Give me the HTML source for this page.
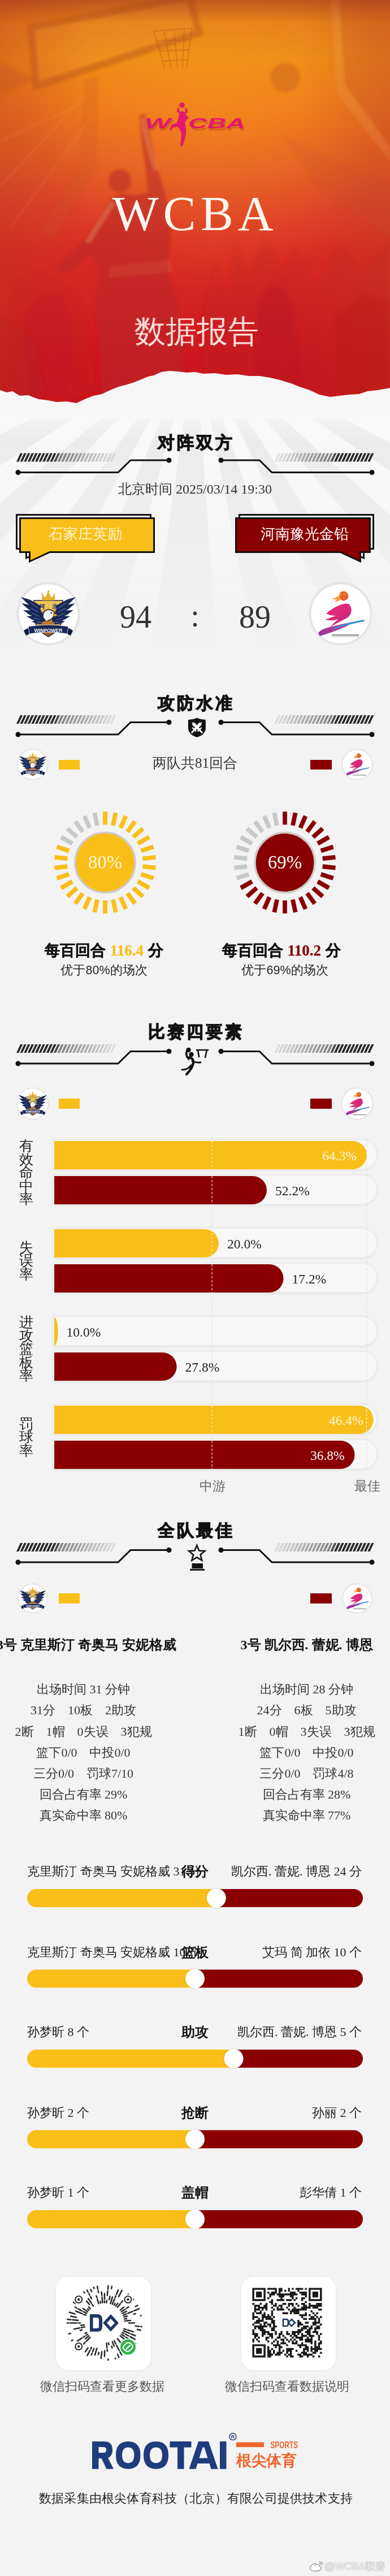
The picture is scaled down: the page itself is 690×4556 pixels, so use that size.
<!DOCTYPE html>
<html><head><meta charset="utf-8">
<style>
*{margin:0;padding:0;box-sizing:border-box}
html,body{width:690px;height:4556px;overflow:hidden;background:#f0f0f0}
body{font-family:"Liberation Sans",sans-serif;color:#222;position:relative}
.a{position:absolute}
.sf{font-family:"Liberation Serif",sans-serif}
.t{position:absolute;white-space:nowrap;line-height:1}
</style></head><body>
<div class="a" style="left:0;top:0;width:690px;height:4556px;background:#f3f3f3"></div>
<svg class="a" style="left:0;top:650px" width="690" height="500" viewBox="0 650 690 500">
<defs>
 <linearGradient id="bgfade" gradientUnits="userSpaceOnUse" x1="0" y1="650" x2="0" y2="1150">
  <stop offset="0" stop-color="#fff" stop-opacity="1"/>
  <stop offset="0.45" stop-color="#fff" stop-opacity="0.6"/>
  <stop offset="1" stop-color="#fff" stop-opacity="0"/>
 </linearGradient>
 <mask id="bgm"><rect x="0" y="650" width="690" height="500" fill="url(#bgfade)"/></mask>
</defs>
<g mask="url(#bgm)">
<rect x="0" y="650" width="690" height="500" fill="#e9e9e9"/>
<path d="M345.0 600.0 L-1054.8 624.4 L-1033.7 843.1 Z M345.0 600.0 L-986.5 1032.6 L-913.3 1213.7 Z M345.0 600.0 L-829.1 1362.5 L-727.5 1499.9 Z M345.0 600.0 L-627.5 1607.1 L-477.9 1732.6 Z M345.0 600.0 L-333.7 1824.5 L-202.0 1888.7 Z M345.0 600.0 L-17.3 1952.3 L150.2 1986.4 Z M345.0 600.0 L442.7 1996.6 L612.1 1974.3 Z M345.0 600.0 L800.8 1923.7 L958.7 1858.3 Z M345.0 600.0 L1107.5 1774.1 L1263.5 1656.6 Z M345.0 600.0 L1385.4 1536.8 L1505.7 1382.9 Z M345.0 600.0 L1581.1 1257.3 L1668.7 1055.8 Z M345.0 600.0 L1714.4 891.1 L1744.1 648.9 Z" fill="#f9f9f9"/>
</g>
<linearGradient id="paperfade" gradientUnits="userSpaceOnUse" x1="0" y1="650" x2="0" y2="780"><stop offset="0" stop-color="#f8f8f8" stop-opacity="1"/><stop offset="0.55" stop-color="#f8f8f8" stop-opacity="0.9"/><stop offset="1" stop-color="#f8f8f8" stop-opacity="0"/></linearGradient>
<rect x="0" y="650" width="690" height="130" fill="url(#paperfade)"/>
</svg>
<svg width="0" height="0" style="position:absolute">
<defs>
 <linearGradient id="shg" x1="0" y1="0" x2="0" y2="1">
  <stop offset="0" stop-color="#f3c64a"/><stop offset="0.6" stop-color="#d9992a"/><stop offset="1" stop-color="#8a5a1a"/>
 </linearGradient>
 <linearGradient id="swg" x1="0" y1="0" x2="1" y2="1">
  <stop offset="0" stop-color="#e8307a"/><stop offset="0.6" stop-color="#d8267a"/><stop offset="1" stop-color="#9a3aa0"/>
 </linearGradient>
 <linearGradient id="sw2" x1="0" y1="1" x2="1" y2="0">
  <stop offset="0" stop-color="#8a3aa8"/><stop offset="1" stop-color="#e0307a"/>
 </linearGradient>
 <linearGradient id="ballg" x1="0" y1="0" x2="1" y2="1">
  <stop offset="0" stop-color="#f8a030"/><stop offset="1" stop-color="#e84a28"/>
 </linearGradient>
 <symbol id="logoL" viewBox="0 0 113 113">
  <circle cx="56.5" cy="56.5" r="54" fill="#fff" stroke="#e4e4e4" stroke-width="4"/>
  <path d="M31 33 L82 33 L82 58 Q82 84 56.5 97 Q31 84 31 58 Z" fill="url(#shg)" stroke="#1d2b5c" stroke-width="1.5"/>
  <path d="M36 36 L55 36 L55 49 L36 49 Z M58 36 L77 36 L77 49 L58 49 Z" fill="#ecc860"/>
  <text x="45.5" y="47" text-anchor="middle" font-size="10" font-weight="bold" fill="#1d2b5c">河</text>
  <text x="67.5" y="47" text-anchor="middle" font-size="10" font-weight="bold" fill="#1d2b5c">北</text>
  <path d="M44.3 43.1 L23.7 31.5 L8.0 27.0 L19.5 38.5 L39.7 50.9 Z M44.0 50.0 L24.0 40.8 L9.0 38.0 L20.4 48.0 L40.0 58.0 Z M44.5 56.8 L25.8 50.6 L12.0 50.0 L23.0 58.2 L41.5 65.2 Z M45.9 63.1 L29.6 59.9 L18.0 61.0 L28.0 66.9 L44.1 70.9 Z M47.3 68.5 L35.3 67.7 L27.0 70.0 L34.7 73.9 L46.7 75.5 Z M73.3 50.9 L93.5 38.5 L105.0 27.0 L89.3 31.5 L68.7 43.1 Z M73.0 58.0 L92.6 48.0 L104.0 38.0 L89.0 40.8 L69.0 50.0 Z M71.5 65.2 L90.0 58.2 L101.0 50.0 L87.2 50.6 L68.5 56.8 Z M68.9 70.9 L85.0 66.9 L95.0 61.0 L83.4 59.9 L67.1 63.1 Z M66.3 75.5 L78.3 73.9 L86.0 70.0 L77.7 67.7 L65.7 68.5 Z" fill="#1b2857"/>
  <path d="M34 44 L50 58 L50 76 L40 74 Z M79 44 L63 58 L63 76 L73 74 Z" fill="#1b2857"/>
  <path d="M39.0 47.0 L25.0 37.0 M39.0 54.0 L25.5 46.0 M40.0 61.0 L27.5 55.5 M42.0 67.0 L31.5 64.0 M44.0 72.0 L37.0 71.0 M74.0 47.0 L88.0 37.0 M74.0 54.0 L87.5 46.0 M73.0 61.0 L85.5 55.5 M71.0 67.0 L81.5 64.0 M69.0 72.0 L76.0 71.0" stroke="#4f6cb4" stroke-width="1.3" fill="none"/>
  <path d="M45 33 L45.5 22 L51 28 L56.5 17 L62 28 L67.5 22 L68 33 Z" fill="#e4ae2c"/>
  <circle cx="56.5" cy="17" r="1.8" fill="#e4ae2c"/><circle cx="45.5" cy="22" r="1.5" fill="#e4ae2c"/><circle cx="67.5" cy="22" r="1.5" fill="#e4ae2c"/>
  <path d="M47 63 Q46 51 56 49 Q65 49 69 56 L73 59 L66 61 Q62 68 52 70 Z" fill="#f0f0f0" stroke="#222" stroke-width="1.6"/>
  <path d="M66 55 L74 59 L66 62 Z" fill="#e8b02a" stroke="#222" stroke-width="0.8"/>
  <circle cx="62" cy="55" r="1.3" fill="#222"/>
  <path d="M44 72 Q56 66 68 72 L66 80 Q56 76 46 80 Z" fill="#b87430"/>
  <path d="M13 86 L24 80 L26 91 L17 95 Z M100 86 L89 80 L87 91 L96 95 Z" fill="#0f1a3c"/>
  <path d="M21 79 Q56.5 73 92 79 L90 92 Q56.5 86 23 92 Z" fill="#1b2857" stroke="#fff" stroke-width="0.8"/>
  <text x="56.5" y="88.5" text-anchor="middle" font-family="Liberation Sans" font-size="9" font-weight="bold" fill="#fff" textLength="50" lengthAdjust="spacingAndGlyphs">WINPOWER</text>
 </symbol>
 <symbol id="logoR" viewBox="0 0 113 113">
  <circle cx="56.5" cy="56.5" r="54" fill="#fff" stroke="#e4e4e4" stroke-width="4"/>
  <circle cx="62" cy="25" r="8.5" fill="url(#ballg)"/>
  <path d="M55 20 Q60 17 67 20 M54.5 28 Q61 24 69.5 27 M61 16.8 Q57 25 62 33.3" stroke="#a8381a" stroke-width="0.8" fill="none"/>
  <path d="M54 25 Q48 28 42 30 Q49 33 55 29 Z M54 29 Q49 33 45 35 Q52 35 56 32 Z" fill="#f39a28"/>
  <path d="M31 56 Q44 45 58 40 Q68 37 72 40 Q77 46 75 55 Q72 63 64 66 Q52 72 38 80 Q46 71 53 66 Q42 70 29 67 Q40 63 48 60 Q38 60 31 56 Z" fill="url(#swg)"/>
  <path d="M52 66 Q62 62 70 55 Q66 64 58 68 Z" fill="#c02a80" opacity="0.6"/>
  <path d="M17 91 Q20 84 38 80 Q60 74 80 71 Q68 79 52 85 Q36 91 20 96 Z" fill="url(#sw2)"/>
  <path d="M43 82 Q70 71 99 67 L98.5 70 Q70 75 45 84 Z" fill="#2e8fd8"/>
  <rect x="41" y="93" width="48" height="2.6" fill="#444" opacity="0.55"/>
  <rect x="41" y="96.8" width="48" height="1" fill="#999" opacity="0.5"/>
 </symbol>
</defs>
</svg>
<div class="a" style="left:0;top:0;width:690px;height:740px;overflow:hidden">
<svg width="690" height="740" viewBox="0 0 690 740" style="display:block">
 <defs>
  <linearGradient id="hg" x1="0" y1="0" x2="0" y2="1">
   <stop offset="0" stop-color="#d66a20"/>
   <stop offset="0.05" stop-color="#e47c1a"/>
   <stop offset="0.14" stop-color="#ee8a17"/>
   <stop offset="0.24" stop-color="#ed7a1b"/>
   <stop offset="0.32" stop-color="#e96a20"/>
   <stop offset="0.41" stop-color="#e45626"/>
   <stop offset="0.50" stop-color="#de4028"/>
   <stop offset="0.60" stop-color="#d92c26"/>
   <stop offset="0.72" stop-color="#d52222"/>
   <stop offset="0.86" stop-color="#ce161e"/>
   <stop offset="1" stop-color="#c8111a"/>
  </linearGradient>
  <radialGradient id="hl" cx="0.55" cy="0.25" r="0.45">
   <stop offset="0" stop-color="#ffa51a" stop-opacity="0.35"/>
   <stop offset="1" stop-color="#ffa51a" stop-opacity="0"/>
  </radialGradient>
  <linearGradient id="lsh" x1="0" y1="0" x2="1" y2="0">
   <stop offset="0" stop-color="#b8361e" stop-opacity="0.35"/>
   <stop offset="1" stop-color="#b8361e" stop-opacity="0"/>
  </linearGradient>
  <linearGradient id="rsh" x1="1" y1="0" x2="0" y2="0">
   <stop offset="0" stop-color="#b8401e" stop-opacity="0.3"/>
   <stop offset="1" stop-color="#b8401e" stop-opacity="0"/>
  </linearGradient>
  <linearGradient id="topdk" x1="0" y1="0" x2="0" y2="1"><stop offset="0" stop-color="#a0381a" stop-opacity="0.45"/><stop offset="1" stop-color="#a8401a" stop-opacity="0"/></linearGradient>
  <filter id="blur2"><feGaussianBlur stdDeviation="2"/></filter>
  <filter id="blur4"><feGaussianBlur stdDeviation="4"/></filter>
 </defs>
 <rect width="690" height="740" fill="url(#hg)"/>
 <rect width="690" height="740" fill="url(#hl)"/>
 <rect x="0" y="0" width="160" height="740" fill="url(#lsh)"/>
 <rect x="530" y="0" width="160" height="740" fill="url(#rsh)"/>
 <g filter="url(#blur2)">
 <!-- backboard -->
 <path d="M55 48 L335 -5 L352 58 L64 152 Z" fill="#f2a04a" opacity="0.10"/>
 <path d="M55 48 L335 -5 L352 58 L64 152 Z" fill="none" stroke="#b4521c" stroke-width="13" opacity="0.42"/>
 <path d="M150 140 L175 135 L170 300 L95 420 L70 410 L140 290 Z" fill="#c9581e" opacity="0.22"/>
 <path d="M0 110 L62 140 L0 170 Z" fill="#b8501c" opacity="0.25"/>
 <path d="M0 330 L150 170 M0 250 L130 190 M20 400 L160 210" stroke="#f6b070" stroke-width="2" opacity="0.22" fill="none"/>
 <!-- right frame -->
 <path d="M585 0 L600 0 L610 150 L690 260 L690 285 L595 165 Z" fill="#f6b070" opacity="0.18"/>
 <path d="M600 0 L690 0 L690 260 L610 150 Z" fill="#c4501c" opacity="0.2"/>
 <path d="M500 240 L690 330 L690 420 L560 330 Z" fill="#c04a20" opacity="0.15"/>
 <!-- ball -->
 <circle cx="505" cy="137" r="26" fill="#d2691c" opacity="0.6"/>
 </g>
 <!-- net -->
 <g stroke="#b4561c" stroke-width="1.4" opacity="0.5" fill="none">
  <path d="M272 55 L340 50 M276 72 L336 70 M281 90 L333 88 M286 108 L330 106 M272 55 L292 122 M290 53 L303 122 M308 52 L314 122 M326 51 L323 120 M340 50 L330 118"/>
 </g>
 <!-- player silhouette -->
 <g filter="url(#blur2)">
  <path d="M247 206 L254 200 L262 214 L266 240 L276 290 L290 335 L298 365 L302 420 L296 470 L310 520 L322 600 L330 700 L180 700 L176 610 L168 540 L176 480 L160 450 L128 478 L104 486 L98 470 L124 450 L152 420 L178 380 L196 352 L214 342 L236 346 L262 340 L258 300 L250 250 Z" fill="#b82624" opacity="0.55"/>
  <circle cx="212" cy="320" r="20" fill="#b82624" opacity="0.55"/>
  <path d="M248 212 L256 206 L266 250 L280 300 L272 302 L258 255 Z M178 382 L196 356 L204 360 L186 388 L160 430 L150 428 Z" fill="#f4a070" opacity="0.35"/>
  <path d="M196 470 L300 460 L306 480 L192 492 Z" fill="#e06a40" opacity="0.25"/>
  <path d="M20 500 Q60 470 100 490 L140 520 L160 600 L170 700 L30 700 Z" fill="#c62226" opacity="0.28"/>
  <path d="M40 560 L70 520 L110 520 L130 570 L120 700 L50 700 Z" fill="#b81c22" opacity="0.2"/>
 </g>
 <g filter="url(#blur4)" fill="#b01e22">
  <path d="M360 560 L380 470 L400 520 L420 430 L440 500 L470 420 L500 480 L520 440 L560 500 L600 440 L640 480 L690 430 L690 700 L360 700 Z" opacity="0.22"/>
  <path d="M455 540 Q470 500 490 505 Q515 515 520 560 L540 690 L450 690 Z" opacity="0.3"/>
  <path d="M590 560 L640 520 L690 530 L690 700 L600 700 Z" opacity="0.22"/>
  <path d="M0 560 L60 600 L80 700 L0 700 Z" opacity="0.2"/>
 </g>
 <rect x="0" y="0" width="690" height="40" fill="url(#topdk)"/>
 <!-- WCBA logo -->
 <g fill="#e2196c">
  <g opacity="0.25" fill="#7a2a10" transform="translate(2,4)">
   <text x="256" y="227" font-family="Liberation Sans" font-weight="bold" font-style="italic" font-size="25" textLength="46" lengthAdjust="spacingAndGlyphs">W</text>
   <text x="333" y="227" font-family="Liberation Sans" font-weight="bold" font-style="italic" font-size="25" textLength="101" lengthAdjust="spacingAndGlyphs">CBA</text>
  </g>
  <text x="256" y="227" font-family="Liberation Sans" font-weight="bold" font-style="italic" font-size="25" textLength="46" lengthAdjust="spacingAndGlyphs">W</text>
  <text x="333" y="227" font-family="Liberation Sans" font-weight="bold" font-style="italic" font-size="25" textLength="101" lengthAdjust="spacingAndGlyphs">CBA</text>
  <circle cx="322" cy="186" r="4.8"/>
  <path d="M315 190 Q311 196 315 200 L318 198 Q316 195 318 192 Z M329 190 Q334 197 330 201 L327 199 Q329 196 327 192 Z"/>
  <path d="M317 198 Q322 195 328 199 L331 210 L327 218 Q330 226 329 236 Q327 248 323 258 L319 258 Q321 246 321 236 Q318 228 314 224 L305 226 L303 231 L300 229 L303 221 L313 217 L316 208 Z"/>
  <path d="M328 201 L334 209 L331 211 L326 205 Z"/>
 </g>
 <!-- WCBA serif -->
 <text x="345" y="407" text-anchor="middle" font-family="Liberation Serif" font-size="87" fill="#fdf6ee" letter-spacing="8">WCBA</text>
 <!-- torn paper edge -->
 <path d="M0 690 L12 694 L22 692 L35 700 L50 699 L68 706 L85 708 L100 711 L118 710 L135 713 L150 706 L165 700 L180 697 L195 690 L210 684 L225 680 L238 676 L250 671 L262 666 L272 664 L285 658 L300 656 L315 657 L330 659 L345 658 L360 661 L380 660 L400 663 L420 662 L440 665 L460 665 L478 668 L495 672 L515 678 L530 684 L548 690 L565 698 L584 702 L600 700 L618 698 L635 697 L650 692 L668 690 L690 686 L690 740 L0 740 Z" fill="#f7f7f7"/>
</svg>
<div class="t" style="left:0;top:559px;width:690px;text-align:center;font-size:55px;color:#fcdcd6;letter-spacing:0px;padding-left:6px">数据报告</div>
</div>
<svg class="a" style="left:0;top:0" width="690" height="4556" viewBox="0 0 690 4556">
<path d="M29.0 816.5 L33.2 816.5 L40.2 801.5 L36.0 801.5 Z" fill="#2a2a2a" fill-opacity="1.00"/><path d="M35.6 816.5 L39.8 816.5 L46.8 801.5 L42.6 801.5 Z" fill="#2a2a2a" fill-opacity="1.00"/><path d="M42.2 816.5 L46.4 816.5 L53.4 801.5 L49.2 801.5 Z" fill="#2a2a2a" fill-opacity="1.00"/><path d="M48.8 816.5 L53.0 816.5 L60.0 801.5 L55.8 801.5 Z" fill="#2a2a2a" fill-opacity="1.00"/><path d="M55.4 816.5 L59.6 816.5 L66.6 801.5 L62.4 801.5 Z" fill="#2a2a2a" fill-opacity="1.00"/><path d="M62.0 816.5 L66.2 816.5 L73.2 801.5 L69.0 801.5 Z" fill="#2a2a2a" fill-opacity="1.00"/><path d="M68.6 816.5 L72.8 816.5 L79.8 801.5 L75.6 801.5 Z" fill="#2a2a2a" fill-opacity="1.00"/><path d="M75.2 816.5 L79.4 816.5 L86.4 801.5 L82.2 801.5 Z" fill="#2a2a2a" fill-opacity="1.00"/><path d="M81.8 816.5 L86.0 816.5 L93.0 801.5 L88.8 801.5 Z" fill="#2a2a2a" fill-opacity="1.00"/><path d="M88.4 816.5 L92.6 816.5 L99.6 801.5 L95.4 801.5 Z" fill="#2a2a2a" fill-opacity="1.00"/><path d="M95.0 816.5 L99.2 816.5 L106.2 801.5 L102.0 801.5 Z" fill="#2a2a2a" fill-opacity="0.82"/><path d="M101.6 816.5 L105.8 816.5 L112.8 801.5 L108.6 801.5 Z" fill="#2a2a2a" fill-opacity="0.55"/><path d="M108.2 816.5 L112.4 816.5 L119.4 801.5 L115.2 801.5 Z" fill="#2a2a2a" fill-opacity="0.52"/><path d="M114.8 816.5 L119.0 816.5 L126.0 801.5 L121.8 801.5 Z" fill="#2a2a2a" fill-opacity="0.48"/><path d="M121.4 816.5 L125.6 816.5 L132.6 801.5 L128.4 801.5 Z" fill="#2a2a2a" fill-opacity="0.45"/><path d="M128.0 816.5 L132.2 816.5 L139.2 801.5 L135.0 801.5 Z" fill="#2a2a2a" fill-opacity="0.42"/><path d="M134.6 816.5 L138.8 816.5 L145.8 801.5 L141.6 801.5 Z" fill="#2a2a2a" fill-opacity="0.39"/><path d="M141.2 816.5 L145.4 816.5 L152.4 801.5 L148.2 801.5 Z" fill="#2a2a2a" fill-opacity="0.36"/><path d="M147.8 816.5 L152.0 816.5 L159.0 801.5 L154.8 801.5 Z" fill="#2a2a2a" fill-opacity="0.33"/><path d="M154.4 816.5 L158.6 816.5 L165.6 801.5 L161.4 801.5 Z" fill="#2a2a2a" fill-opacity="0.29"/><path d="M161.0 816.5 L165.2 816.5 L172.2 801.5 L168.0 801.5 Z" fill="#2a2a2a" fill-opacity="0.26"/><path d="M167.6 816.5 L171.8 816.5 L178.8 801.5 L174.6 801.5 Z" fill="#2a2a2a" fill-opacity="0.23"/><path d="M174.2 816.5 L178.4 816.5 L185.4 801.5 L181.2 801.5 Z" fill="#2a2a2a" fill-opacity="0.20"/><path d="M180.8 816.5 L185.0 816.5 L192.0 801.5 L187.8 801.5 Z" fill="#2a2a2a" fill-opacity="0.17"/><path d="M187.4 816.5 L191.6 816.5 L198.6 801.5 L194.4 801.5 Z" fill="#2a2a2a" fill-opacity="0.14"/><path d="M194.0 816.5 L198.2 816.5 L205.2 801.5 L201.0 801.5 Z" fill="#2a2a2a" fill-opacity="0.10"/><path d="M661.5 801.5 L657.3 801.5 L650.3 816.5 L654.5 816.5 Z" fill="#2a2a2a" fill-opacity="1.00"/><path d="M654.9 801.5 L650.7 801.5 L643.7 816.5 L647.9 816.5 Z" fill="#2a2a2a" fill-opacity="1.00"/><path d="M648.3 801.5 L644.1 801.5 L637.1 816.5 L641.3 816.5 Z" fill="#2a2a2a" fill-opacity="1.00"/><path d="M641.7 801.5 L637.5 801.5 L630.5 816.5 L634.7 816.5 Z" fill="#2a2a2a" fill-opacity="1.00"/><path d="M635.1 801.5 L630.9 801.5 L623.9 816.5 L628.1 816.5 Z" fill="#2a2a2a" fill-opacity="1.00"/><path d="M628.5 801.5 L624.3 801.5 L617.3 816.5 L621.5 816.5 Z" fill="#2a2a2a" fill-opacity="1.00"/><path d="M621.9 801.5 L617.7 801.5 L610.7 816.5 L614.9 816.5 Z" fill="#2a2a2a" fill-opacity="1.00"/><path d="M615.3 801.5 L611.1 801.5 L604.1 816.5 L608.3 816.5 Z" fill="#2a2a2a" fill-opacity="1.00"/><path d="M608.7 801.5 L604.5 801.5 L597.5 816.5 L601.7 816.5 Z" fill="#2a2a2a" fill-opacity="1.00"/><path d="M602.1 801.5 L597.9 801.5 L590.9 816.5 L595.1 816.5 Z" fill="#2a2a2a" fill-opacity="1.00"/><path d="M595.5 801.5 L591.3 801.5 L584.3 816.5 L588.5 816.5 Z" fill="#2a2a2a" fill-opacity="0.82"/><path d="M588.9 801.5 L584.7 801.5 L577.7 816.5 L581.9 816.5 Z" fill="#2a2a2a" fill-opacity="0.55"/><path d="M582.3 801.5 L578.1 801.5 L571.1 816.5 L575.3 816.5 Z" fill="#2a2a2a" fill-opacity="0.52"/><path d="M575.7 801.5 L571.5 801.5 L564.5 816.5 L568.7 816.5 Z" fill="#2a2a2a" fill-opacity="0.48"/><path d="M569.1 801.5 L564.9 801.5 L557.9 816.5 L562.1 816.5 Z" fill="#2a2a2a" fill-opacity="0.45"/><path d="M562.5 801.5 L558.3 801.5 L551.3 816.5 L555.5 816.5 Z" fill="#2a2a2a" fill-opacity="0.42"/><path d="M555.9 801.5 L551.7 801.5 L544.7 816.5 L548.9 816.5 Z" fill="#2a2a2a" fill-opacity="0.39"/><path d="M549.3 801.5 L545.1 801.5 L538.1 816.5 L542.3 816.5 Z" fill="#2a2a2a" fill-opacity="0.36"/><path d="M542.7 801.5 L538.5 801.5 L531.5 816.5 L535.7 816.5 Z" fill="#2a2a2a" fill-opacity="0.33"/><path d="M536.1 801.5 L531.9 801.5 L524.9 816.5 L529.1 816.5 Z" fill="#2a2a2a" fill-opacity="0.29"/><path d="M529.5 801.5 L525.3 801.5 L518.3 816.5 L522.5 816.5 Z" fill="#2a2a2a" fill-opacity="0.26"/><path d="M522.9 801.5 L518.7 801.5 L511.7 816.5 L515.9 816.5 Z" fill="#2a2a2a" fill-opacity="0.23"/><path d="M516.3 801.5 L512.1 801.5 L505.1 816.5 L509.3 816.5 Z" fill="#2a2a2a" fill-opacity="0.20"/><path d="M509.7 801.5 L505.5 801.5 L498.5 816.5 L502.7 816.5 Z" fill="#2a2a2a" fill-opacity="0.17"/><path d="M503.1 801.5 L498.9 801.5 L491.9 816.5 L496.1 816.5 Z" fill="#2a2a2a" fill-opacity="0.14"/><path d="M496.5 801.5 L492.3 801.5 L485.3 816.5 L489.5 816.5 Z" fill="#2a2a2a" fill-opacity="0.10"/>
<path d="M32 835.5 L209 835.5 L231 814.0 L299 814.0" fill="none" stroke="#111" stroke-width="3"/>
<path d="M658 835.5 L481 835.5 L459 814.0 L391 814.0" fill="none" stroke="#111" stroke-width="3"/>
<circle cx="32" cy="835.5" r="4.5" fill="#111"/><circle cx="658" cy="835.5" r="4.5" fill="#111"/>
<circle cx="299" cy="814.0" r="4.5" fill="#111"/><circle cx="391" cy="814.0" r="4.5" fill="#111"/>

</svg>
<div class="t" style="left:0;top:768px;width:690px;text-align:center;font-weight:bold;font-size:30px;letter-spacing:4px;color:#111;padding-left:4px;-webkit-text-stroke:1.2px #111">对阵双方</div>
<div class="t" style="left:0;top:853px;width:690px;text-align:center;font-size:24px;color:#333"><span>北京时间</span><span class="sf"> 2025/03/14 19:30</span></div>
<svg class="a" style="left:0;top:0" width="690" height="1200" viewBox="0 0 690 1200">
 <!-- left badge -->
 <path d="M29.5 910.5 L266.5 910.5 L266.5 970.5 L82 970.5 L46.5 987 L46.5 970.5 L29.5 970.5 Z" fill="#fff" stroke="#111" stroke-width="3"/>
 <path d="M35.5 916.5 L272.5 916.5 L272.5 976.5 L88 976.5 L52.5 993 L52.5 976.5 L35.5 976.5 Z" fill="#f9be18" stroke="#111" stroke-width="3"/>
 <!-- right badge -->
 <path d="M660.5 910.5 L423.5 910.5 L423.5 970.5 L608 970.5 L643.5 987 L643.5 970.5 L660.5 970.5 Z" fill="#fff" stroke="#111" stroke-width="3"/>
 <path d="M654.5 916.5 L417.5 916.5 L417.5 976.5 L602 976.5 L637.5 993 L637.5 976.5 L654.5 976.5 Z" fill="#8a0000" stroke="#111" stroke-width="3"/>
</svg>
<div class="t" style="left:33px;top:932px;width:236px;text-align:center;font-size:25.5px;color:#fff6d8">石家庄英励</div>
<div class="t" style="left:421px;top:932px;width:236px;text-align:center;font-size:25.5px;color:#fff">河南豫光金铅</div>
<div class="t sf" style="left:185px;top:1063px;width:110px;text-align:center;font-size:56px;color:#333">94</div>
<div class="t sf" style="left:315px;top:1061px;width:60px;text-align:center;font-size:56px;color:#333">:</div>
<div class="t sf" style="left:396px;top:1063px;width:110px;text-align:center;font-size:56px;color:#333">89</div>
<svg class="a" style="left:29px;top:1029px" width="113" height="113"><use href="#logoL"/></svg>
<svg class="a" style="left:546px;top:1029px" width="113" height="113"><use href="#logoR"/></svg>
<svg class="a" style="left:0;top:0" width="690" height="4556" viewBox="0 0 690 4556">
<path d="M29.0 1280 L33.2 1280 L40.2 1265 L36.0 1265 Z" fill="#2a2a2a" fill-opacity="1.00"/><path d="M35.6 1280 L39.8 1280 L46.8 1265 L42.6 1265 Z" fill="#2a2a2a" fill-opacity="1.00"/><path d="M42.2 1280 L46.4 1280 L53.4 1265 L49.2 1265 Z" fill="#2a2a2a" fill-opacity="1.00"/><path d="M48.8 1280 L53.0 1280 L60.0 1265 L55.8 1265 Z" fill="#2a2a2a" fill-opacity="1.00"/><path d="M55.4 1280 L59.6 1280 L66.6 1265 L62.4 1265 Z" fill="#2a2a2a" fill-opacity="1.00"/><path d="M62.0 1280 L66.2 1280 L73.2 1265 L69.0 1265 Z" fill="#2a2a2a" fill-opacity="1.00"/><path d="M68.6 1280 L72.8 1280 L79.8 1265 L75.6 1265 Z" fill="#2a2a2a" fill-opacity="1.00"/><path d="M75.2 1280 L79.4 1280 L86.4 1265 L82.2 1265 Z" fill="#2a2a2a" fill-opacity="1.00"/><path d="M81.8 1280 L86.0 1280 L93.0 1265 L88.8 1265 Z" fill="#2a2a2a" fill-opacity="1.00"/><path d="M88.4 1280 L92.6 1280 L99.6 1265 L95.4 1265 Z" fill="#2a2a2a" fill-opacity="1.00"/><path d="M95.0 1280 L99.2 1280 L106.2 1265 L102.0 1265 Z" fill="#2a2a2a" fill-opacity="0.82"/><path d="M101.6 1280 L105.8 1280 L112.8 1265 L108.6 1265 Z" fill="#2a2a2a" fill-opacity="0.55"/><path d="M108.2 1280 L112.4 1280 L119.4 1265 L115.2 1265 Z" fill="#2a2a2a" fill-opacity="0.52"/><path d="M114.8 1280 L119.0 1280 L126.0 1265 L121.8 1265 Z" fill="#2a2a2a" fill-opacity="0.48"/><path d="M121.4 1280 L125.6 1280 L132.6 1265 L128.4 1265 Z" fill="#2a2a2a" fill-opacity="0.45"/><path d="M128.0 1280 L132.2 1280 L139.2 1265 L135.0 1265 Z" fill="#2a2a2a" fill-opacity="0.42"/><path d="M134.6 1280 L138.8 1280 L145.8 1265 L141.6 1265 Z" fill="#2a2a2a" fill-opacity="0.39"/><path d="M141.2 1280 L145.4 1280 L152.4 1265 L148.2 1265 Z" fill="#2a2a2a" fill-opacity="0.36"/><path d="M147.8 1280 L152.0 1280 L159.0 1265 L154.8 1265 Z" fill="#2a2a2a" fill-opacity="0.33"/><path d="M154.4 1280 L158.6 1280 L165.6 1265 L161.4 1265 Z" fill="#2a2a2a" fill-opacity="0.29"/><path d="M161.0 1280 L165.2 1280 L172.2 1265 L168.0 1265 Z" fill="#2a2a2a" fill-opacity="0.26"/><path d="M167.6 1280 L171.8 1280 L178.8 1265 L174.6 1265 Z" fill="#2a2a2a" fill-opacity="0.23"/><path d="M174.2 1280 L178.4 1280 L185.4 1265 L181.2 1265 Z" fill="#2a2a2a" fill-opacity="0.20"/><path d="M180.8 1280 L185.0 1280 L192.0 1265 L187.8 1265 Z" fill="#2a2a2a" fill-opacity="0.17"/><path d="M187.4 1280 L191.6 1280 L198.6 1265 L194.4 1265 Z" fill="#2a2a2a" fill-opacity="0.14"/><path d="M194.0 1280 L198.2 1280 L205.2 1265 L201.0 1265 Z" fill="#2a2a2a" fill-opacity="0.10"/><path d="M661.5 1265 L657.3 1265 L650.3 1280 L654.5 1280 Z" fill="#2a2a2a" fill-opacity="1.00"/><path d="M654.9 1265 L650.7 1265 L643.7 1280 L647.9 1280 Z" fill="#2a2a2a" fill-opacity="1.00"/><path d="M648.3 1265 L644.1 1265 L637.1 1280 L641.3 1280 Z" fill="#2a2a2a" fill-opacity="1.00"/><path d="M641.7 1265 L637.5 1265 L630.5 1280 L634.7 1280 Z" fill="#2a2a2a" fill-opacity="1.00"/><path d="M635.1 1265 L630.9 1265 L623.9 1280 L628.1 1280 Z" fill="#2a2a2a" fill-opacity="1.00"/><path d="M628.5 1265 L624.3 1265 L617.3 1280 L621.5 1280 Z" fill="#2a2a2a" fill-opacity="1.00"/><path d="M621.9 1265 L617.7 1265 L610.7 1280 L614.9 1280 Z" fill="#2a2a2a" fill-opacity="1.00"/><path d="M615.3 1265 L611.1 1265 L604.1 1280 L608.3 1280 Z" fill="#2a2a2a" fill-opacity="1.00"/><path d="M608.7 1265 L604.5 1265 L597.5 1280 L601.7 1280 Z" fill="#2a2a2a" fill-opacity="1.00"/><path d="M602.1 1265 L597.9 1265 L590.9 1280 L595.1 1280 Z" fill="#2a2a2a" fill-opacity="1.00"/><path d="M595.5 1265 L591.3 1265 L584.3 1280 L588.5 1280 Z" fill="#2a2a2a" fill-opacity="0.82"/><path d="M588.9 1265 L584.7 1265 L577.7 1280 L581.9 1280 Z" fill="#2a2a2a" fill-opacity="0.55"/><path d="M582.3 1265 L578.1 1265 L571.1 1280 L575.3 1280 Z" fill="#2a2a2a" fill-opacity="0.52"/><path d="M575.7 1265 L571.5 1265 L564.5 1280 L568.7 1280 Z" fill="#2a2a2a" fill-opacity="0.48"/><path d="M569.1 1265 L564.9 1265 L557.9 1280 L562.1 1280 Z" fill="#2a2a2a" fill-opacity="0.45"/><path d="M562.5 1265 L558.3 1265 L551.3 1280 L555.5 1280 Z" fill="#2a2a2a" fill-opacity="0.42"/><path d="M555.9 1265 L551.7 1265 L544.7 1280 L548.9 1280 Z" fill="#2a2a2a" fill-opacity="0.39"/><path d="M549.3 1265 L545.1 1265 L538.1 1280 L542.3 1280 Z" fill="#2a2a2a" fill-opacity="0.36"/><path d="M542.7 1265 L538.5 1265 L531.5 1280 L535.7 1280 Z" fill="#2a2a2a" fill-opacity="0.33"/><path d="M536.1 1265 L531.9 1265 L524.9 1280 L529.1 1280 Z" fill="#2a2a2a" fill-opacity="0.29"/><path d="M529.5 1265 L525.3 1265 L518.3 1280 L522.5 1280 Z" fill="#2a2a2a" fill-opacity="0.26"/><path d="M522.9 1265 L518.7 1265 L511.7 1280 L515.9 1280 Z" fill="#2a2a2a" fill-opacity="0.23"/><path d="M516.3 1265 L512.1 1265 L505.1 1280 L509.3 1280 Z" fill="#2a2a2a" fill-opacity="0.20"/><path d="M509.7 1265 L505.5 1265 L498.5 1280 L502.7 1280 Z" fill="#2a2a2a" fill-opacity="0.17"/><path d="M503.1 1265 L498.9 1265 L491.9 1280 L496.1 1280 Z" fill="#2a2a2a" fill-opacity="0.14"/><path d="M496.5 1265 L492.3 1265 L485.3 1280 L489.5 1280 Z" fill="#2a2a2a" fill-opacity="0.10"/>
<path d="M32 1299 L209 1299 L231 1277.5 L299 1277.5" fill="none" stroke="#111" stroke-width="3"/>
<path d="M658 1299 L481 1299 L459 1277.5 L391 1277.5" fill="none" stroke="#111" stroke-width="3"/>
<circle cx="32" cy="1299" r="4.5" fill="#111"/><circle cx="658" cy="1299" r="4.5" fill="#111"/>
<circle cx="299" cy="1277.5" r="4.5" fill="#111"/><circle cx="391" cy="1277.5" r="4.5" fill="#111"/>
<g transform="translate(348.4,1287)">
<path d="M-15.5 -14 Q-7 -14 0 -17.5 Q7 -14 15.5 -14 L15.5 1 Q15 12 0 17 Q-15 12 -15.5 1 Z" fill="#111"/>
<g fill="#fff" stroke="#fff" stroke-linecap="round">
<path d="M-8 -9 L-4 -8.5 L6 3 L3.5 5.5 L-7.5 -4.5 Z" stroke-width="0.6"/>
<path d="M8 -9 L4 -8.5 L-6 3 L-3.5 5.5 L7.5 -4.5 Z" stroke-width="0.6"/>
<path d="M2 6 L7.5 0.5 M-2 6 L-7.5 0.5" stroke-width="2.4" fill="none"/>
<path d="M5 4.5 L9 8.5 M-5 4.5 L-9 8.5" stroke-width="2.6" fill="none"/>
</g>
</g>
</svg>
<div class="t" style="left:0;top:1229px;width:690px;text-align:center;font-weight:bold;font-size:30px;letter-spacing:4px;color:#111;padding-left:4px;-webkit-text-stroke:1.2px #111">攻防水准</div>
<svg class="a" style="left:30px;top:1324px" width="56" height="56"><use href="#logoL"/></svg>
<svg class="a" style="left:604px;top:1324px" width="56" height="56"><use href="#logoR"/></svg>
<div class="a" style="left:104px;top:1344px;width:37px;height:17px;background:#f9be18"></div>
<div class="a" style="left:549px;top:1344px;width:38px;height:17px;background:#8a0000"></div>
<div class="t" style="left:0;top:1337px;width:690px;text-align:center;font-size:25px;color:#333">两队共<span class="sf">81</span>回合</div>
<svg class="a" style="left:0;top:0" width="690" height="1700" viewBox="0 0 690 1700">
<rect x="182.1" y="1435.5" width="7.8" height="23" fill="#f9be18" transform="rotate(0 186 1525.5)"/><rect x="182.1" y="1435.5" width="7.8" height="23" fill="#f9be18" transform="rotate(12 186 1525.5)"/><rect x="182.1" y="1435.5" width="7.8" height="23" fill="#f9be18" transform="rotate(24 186 1525.5)"/><rect x="182.1" y="1435.5" width="7.8" height="23" fill="#f9be18" transform="rotate(36 186 1525.5)"/><rect x="182.1" y="1435.5" width="7.8" height="23" fill="#f9be18" transform="rotate(48 186 1525.5)"/><rect x="182.1" y="1435.5" width="7.8" height="23" fill="#f9be18" transform="rotate(60 186 1525.5)"/><rect x="182.1" y="1435.5" width="7.8" height="23" fill="#f9be18" transform="rotate(72 186 1525.5)"/><rect x="182.1" y="1435.5" width="7.8" height="23" fill="#f9be18" transform="rotate(84 186 1525.5)"/><rect x="182.1" y="1435.5" width="7.8" height="23" fill="#f9be18" transform="rotate(96 186 1525.5)"/><rect x="182.1" y="1435.5" width="7.8" height="23" fill="#f9be18" transform="rotate(108 186 1525.5)"/><rect x="182.1" y="1435.5" width="7.8" height="23" fill="#f9be18" transform="rotate(120 186 1525.5)"/><rect x="182.1" y="1435.5" width="7.8" height="23" fill="#f9be18" transform="rotate(132 186 1525.5)"/><rect x="182.1" y="1435.5" width="7.8" height="23" fill="#f9be18" transform="rotate(144 186 1525.5)"/><rect x="182.1" y="1435.5" width="7.8" height="23" fill="#f9be18" transform="rotate(156 186 1525.5)"/><rect x="182.1" y="1435.5" width="7.8" height="23" fill="#f9be18" transform="rotate(168 186 1525.5)"/><rect x="182.1" y="1435.5" width="7.8" height="23" fill="#f9be18" transform="rotate(180 186 1525.5)"/><rect x="182.1" y="1435.5" width="7.8" height="23" fill="#f9be18" transform="rotate(192 186 1525.5)"/><rect x="182.1" y="1435.5" width="7.8" height="23" fill="#f9be18" transform="rotate(204 186 1525.5)"/><rect x="182.1" y="1435.5" width="7.8" height="23" fill="#f9be18" transform="rotate(216 186 1525.5)"/><rect x="182.1" y="1435.5" width="7.8" height="23" fill="#f9be18" transform="rotate(228 186 1525.5)"/><rect x="182.1" y="1435.5" width="7.8" height="23" fill="#f9be18" transform="rotate(240 186 1525.5)"/><rect x="182.1" y="1435.5" width="7.8" height="23" fill="#f9be18" transform="rotate(252 186 1525.5)"/><rect x="182.1" y="1435.5" width="7.8" height="23" fill="#f9be18" transform="rotate(264 186 1525.5)"/><rect x="182.1" y="1435.5" width="7.8" height="23" fill="#f9be18" transform="rotate(276 186 1525.5)"/><rect x="182.1" y="1435.5" width="7.8" height="23" fill="#f9be18" transform="rotate(288 186 1525.5)"/><rect x="182.1" y="1435.5" width="7.8" height="23" fill="#c8c8c8" transform="rotate(300 186 1525.5)"/><rect x="182.1" y="1435.5" width="7.8" height="23" fill="#c8c8c8" transform="rotate(312 186 1525.5)"/><rect x="182.1" y="1435.5" width="7.8" height="23" fill="#c8c8c8" transform="rotate(324 186 1525.5)"/><rect x="182.1" y="1435.5" width="7.8" height="23" fill="#c8c8c8" transform="rotate(336 186 1525.5)"/><rect x="182.1" y="1435.5" width="7.8" height="23" fill="#c8c8c8" transform="rotate(348 186 1525.5)"/><circle cx="186" cy="1525.5" r="53" fill="#f9be18" stroke="#cfcac4" stroke-width="3.5"/>
<rect x="500.1" y="1435.5" width="7.8" height="23" fill="#8a0000" transform="rotate(0 504 1525.5)"/><rect x="500.1" y="1435.5" width="7.8" height="23" fill="#8a0000" transform="rotate(12 504 1525.5)"/><rect x="500.1" y="1435.5" width="7.8" height="23" fill="#8a0000" transform="rotate(24 504 1525.5)"/><rect x="500.1" y="1435.5" width="7.8" height="23" fill="#8a0000" transform="rotate(36 504 1525.5)"/><rect x="500.1" y="1435.5" width="7.8" height="23" fill="#8a0000" transform="rotate(48 504 1525.5)"/><rect x="500.1" y="1435.5" width="7.8" height="23" fill="#8a0000" transform="rotate(60 504 1525.5)"/><rect x="500.1" y="1435.5" width="7.8" height="23" fill="#8a0000" transform="rotate(72 504 1525.5)"/><rect x="500.1" y="1435.5" width="7.8" height="23" fill="#8a0000" transform="rotate(84 504 1525.5)"/><rect x="500.1" y="1435.5" width="7.8" height="23" fill="#8a0000" transform="rotate(96 504 1525.5)"/><rect x="500.1" y="1435.5" width="7.8" height="23" fill="#8a0000" transform="rotate(108 504 1525.5)"/><rect x="500.1" y="1435.5" width="7.8" height="23" fill="#8a0000" transform="rotate(120 504 1525.5)"/><rect x="500.1" y="1435.5" width="7.8" height="23" fill="#8a0000" transform="rotate(132 504 1525.5)"/><rect x="500.1" y="1435.5" width="7.8" height="23" fill="#8a0000" transform="rotate(144 504 1525.5)"/><rect x="500.1" y="1435.5" width="7.8" height="23" fill="#8a0000" transform="rotate(156 504 1525.5)"/><rect x="500.1" y="1435.5" width="7.8" height="23" fill="#8a0000" transform="rotate(168 504 1525.5)"/><rect x="500.1" y="1435.5" width="7.8" height="23" fill="#8a0000" transform="rotate(180 504 1525.5)"/><rect x="500.1" y="1435.5" width="7.8" height="23" fill="#8a0000" transform="rotate(192 504 1525.5)"/><rect x="500.1" y="1435.5" width="7.8" height="23" fill="#8a0000" transform="rotate(204 504 1525.5)"/><rect x="500.1" y="1435.5" width="7.8" height="23" fill="#8a0000" transform="rotate(216 504 1525.5)"/><rect x="500.1" y="1435.5" width="7.8" height="23" fill="#8a0000" transform="rotate(228 504 1525.5)"/><rect x="500.1" y="1435.5" width="7.8" height="23" fill="#8a0000" transform="rotate(240 504 1525.5)"/><rect x="500.1" y="1435.5" width="7.8" height="23" fill="#c8c8c8" transform="rotate(252 504 1525.5)"/><rect x="500.1" y="1435.5" width="7.8" height="23" fill="#c8c8c8" transform="rotate(264 504 1525.5)"/><rect x="500.1" y="1435.5" width="7.8" height="23" fill="#c8c8c8" transform="rotate(276 504 1525.5)"/><rect x="500.1" y="1435.5" width="7.8" height="23" fill="#c8c8c8" transform="rotate(288 504 1525.5)"/><rect x="500.1" y="1435.5" width="7.8" height="23" fill="#c8c8c8" transform="rotate(300 504 1525.5)"/><rect x="500.1" y="1435.5" width="7.8" height="23" fill="#c8c8c8" transform="rotate(312 504 1525.5)"/><rect x="500.1" y="1435.5" width="7.8" height="23" fill="#c8c8c8" transform="rotate(324 504 1525.5)"/><rect x="500.1" y="1435.5" width="7.8" height="23" fill="#c8c8c8" transform="rotate(336 504 1525.5)"/><rect x="500.1" y="1435.5" width="7.8" height="23" fill="#c8c8c8" transform="rotate(348 504 1525.5)"/><circle cx="504" cy="1525.5" r="53" fill="#8a0000" stroke="#cfcac4" stroke-width="3.5"/>
</svg>
<div class="t sf" style="left:86px;top:1509px;width:200px;text-align:center;font-size:33px;color:#fff7dc">80%</div>
<div class="t sf" style="left:404px;top:1509px;width:200px;text-align:center;font-size:33px;color:#fff">69%</div>
<div class="t" style="left:34px;top:1668px;width:300px;text-align:center;font-size:27px;font-weight:bold;color:#111;-webkit-text-stroke:0.5px #111">每百回合 <span class="sf" style="color:#f9be18;-webkit-text-stroke:0.3px #f9be18">116.4</span> 分</div>
<div class="t" style="left:348px;top:1668px;width:300px;text-align:center;font-size:27px;font-weight:bold;color:#111;-webkit-text-stroke:0.5px #111">每百回合 <span class="sf" style="color:#8a0000;-webkit-text-stroke:0.3px #8a0000">110.2</span> 分</div>
<div class="t" style="left:34px;top:1706px;width:300px;text-align:center;font-size:21.5px;color:#222">优于80%的场次</div>
<div class="t" style="left:354px;top:1706px;width:300px;text-align:center;font-size:21.5px;color:#222">优于69%的场次</div>
<svg class="a" style="left:0;top:0" width="690" height="4556" viewBox="0 0 690 4556">
<path d="M29.0 1862 L33.2 1862 L40.2 1847 L36.0 1847 Z" fill="#2a2a2a" fill-opacity="1.00"/><path d="M35.6 1862 L39.8 1862 L46.8 1847 L42.6 1847 Z" fill="#2a2a2a" fill-opacity="1.00"/><path d="M42.2 1862 L46.4 1862 L53.4 1847 L49.2 1847 Z" fill="#2a2a2a" fill-opacity="1.00"/><path d="M48.8 1862 L53.0 1862 L60.0 1847 L55.8 1847 Z" fill="#2a2a2a" fill-opacity="1.00"/><path d="M55.4 1862 L59.6 1862 L66.6 1847 L62.4 1847 Z" fill="#2a2a2a" fill-opacity="1.00"/><path d="M62.0 1862 L66.2 1862 L73.2 1847 L69.0 1847 Z" fill="#2a2a2a" fill-opacity="1.00"/><path d="M68.6 1862 L72.8 1862 L79.8 1847 L75.6 1847 Z" fill="#2a2a2a" fill-opacity="1.00"/><path d="M75.2 1862 L79.4 1862 L86.4 1847 L82.2 1847 Z" fill="#2a2a2a" fill-opacity="1.00"/><path d="M81.8 1862 L86.0 1862 L93.0 1847 L88.8 1847 Z" fill="#2a2a2a" fill-opacity="1.00"/><path d="M88.4 1862 L92.6 1862 L99.6 1847 L95.4 1847 Z" fill="#2a2a2a" fill-opacity="1.00"/><path d="M95.0 1862 L99.2 1862 L106.2 1847 L102.0 1847 Z" fill="#2a2a2a" fill-opacity="0.82"/><path d="M101.6 1862 L105.8 1862 L112.8 1847 L108.6 1847 Z" fill="#2a2a2a" fill-opacity="0.55"/><path d="M108.2 1862 L112.4 1862 L119.4 1847 L115.2 1847 Z" fill="#2a2a2a" fill-opacity="0.52"/><path d="M114.8 1862 L119.0 1862 L126.0 1847 L121.8 1847 Z" fill="#2a2a2a" fill-opacity="0.48"/><path d="M121.4 1862 L125.6 1862 L132.6 1847 L128.4 1847 Z" fill="#2a2a2a" fill-opacity="0.45"/><path d="M128.0 1862 L132.2 1862 L139.2 1847 L135.0 1847 Z" fill="#2a2a2a" fill-opacity="0.42"/><path d="M134.6 1862 L138.8 1862 L145.8 1847 L141.6 1847 Z" fill="#2a2a2a" fill-opacity="0.39"/><path d="M141.2 1862 L145.4 1862 L152.4 1847 L148.2 1847 Z" fill="#2a2a2a" fill-opacity="0.36"/><path d="M147.8 1862 L152.0 1862 L159.0 1847 L154.8 1847 Z" fill="#2a2a2a" fill-opacity="0.33"/><path d="M154.4 1862 L158.6 1862 L165.6 1847 L161.4 1847 Z" fill="#2a2a2a" fill-opacity="0.29"/><path d="M161.0 1862 L165.2 1862 L172.2 1847 L168.0 1847 Z" fill="#2a2a2a" fill-opacity="0.26"/><path d="M167.6 1862 L171.8 1862 L178.8 1847 L174.6 1847 Z" fill="#2a2a2a" fill-opacity="0.23"/><path d="M174.2 1862 L178.4 1862 L185.4 1847 L181.2 1847 Z" fill="#2a2a2a" fill-opacity="0.20"/><path d="M180.8 1862 L185.0 1862 L192.0 1847 L187.8 1847 Z" fill="#2a2a2a" fill-opacity="0.17"/><path d="M187.4 1862 L191.6 1862 L198.6 1847 L194.4 1847 Z" fill="#2a2a2a" fill-opacity="0.14"/><path d="M194.0 1862 L198.2 1862 L205.2 1847 L201.0 1847 Z" fill="#2a2a2a" fill-opacity="0.10"/><path d="M661.5 1847 L657.3 1847 L650.3 1862 L654.5 1862 Z" fill="#2a2a2a" fill-opacity="1.00"/><path d="M654.9 1847 L650.7 1847 L643.7 1862 L647.9 1862 Z" fill="#2a2a2a" fill-opacity="1.00"/><path d="M648.3 1847 L644.1 1847 L637.1 1862 L641.3 1862 Z" fill="#2a2a2a" fill-opacity="1.00"/><path d="M641.7 1847 L637.5 1847 L630.5 1862 L634.7 1862 Z" fill="#2a2a2a" fill-opacity="1.00"/><path d="M635.1 1847 L630.9 1847 L623.9 1862 L628.1 1862 Z" fill="#2a2a2a" fill-opacity="1.00"/><path d="M628.5 1847 L624.3 1847 L617.3 1862 L621.5 1862 Z" fill="#2a2a2a" fill-opacity="1.00"/><path d="M621.9 1847 L617.7 1847 L610.7 1862 L614.9 1862 Z" fill="#2a2a2a" fill-opacity="1.00"/><path d="M615.3 1847 L611.1 1847 L604.1 1862 L608.3 1862 Z" fill="#2a2a2a" fill-opacity="1.00"/><path d="M608.7 1847 L604.5 1847 L597.5 1862 L601.7 1862 Z" fill="#2a2a2a" fill-opacity="1.00"/><path d="M602.1 1847 L597.9 1847 L590.9 1862 L595.1 1862 Z" fill="#2a2a2a" fill-opacity="1.00"/><path d="M595.5 1847 L591.3 1847 L584.3 1862 L588.5 1862 Z" fill="#2a2a2a" fill-opacity="0.82"/><path d="M588.9 1847 L584.7 1847 L577.7 1862 L581.9 1862 Z" fill="#2a2a2a" fill-opacity="0.55"/><path d="M582.3 1847 L578.1 1847 L571.1 1862 L575.3 1862 Z" fill="#2a2a2a" fill-opacity="0.52"/><path d="M575.7 1847 L571.5 1847 L564.5 1862 L568.7 1862 Z" fill="#2a2a2a" fill-opacity="0.48"/><path d="M569.1 1847 L564.9 1847 L557.9 1862 L562.1 1862 Z" fill="#2a2a2a" fill-opacity="0.45"/><path d="M562.5 1847 L558.3 1847 L551.3 1862 L555.5 1862 Z" fill="#2a2a2a" fill-opacity="0.42"/><path d="M555.9 1847 L551.7 1847 L544.7 1862 L548.9 1862 Z" fill="#2a2a2a" fill-opacity="0.39"/><path d="M549.3 1847 L545.1 1847 L538.1 1862 L542.3 1862 Z" fill="#2a2a2a" fill-opacity="0.36"/><path d="M542.7 1847 L538.5 1847 L531.5 1862 L535.7 1862 Z" fill="#2a2a2a" fill-opacity="0.33"/><path d="M536.1 1847 L531.9 1847 L524.9 1862 L529.1 1862 Z" fill="#2a2a2a" fill-opacity="0.29"/><path d="M529.5 1847 L525.3 1847 L518.3 1862 L522.5 1862 Z" fill="#2a2a2a" fill-opacity="0.26"/><path d="M522.9 1847 L518.7 1847 L511.7 1862 L515.9 1862 Z" fill="#2a2a2a" fill-opacity="0.23"/><path d="M516.3 1847 L512.1 1847 L505.1 1862 L509.3 1862 Z" fill="#2a2a2a" fill-opacity="0.20"/><path d="M509.7 1847 L505.5 1847 L498.5 1862 L502.7 1862 Z" fill="#2a2a2a" fill-opacity="0.17"/><path d="M503.1 1847 L498.9 1847 L491.9 1862 L496.1 1862 Z" fill="#2a2a2a" fill-opacity="0.14"/><path d="M496.5 1847 L492.3 1847 L485.3 1862 L489.5 1862 Z" fill="#2a2a2a" fill-opacity="0.10"/>
<path d="M32 1881 L209 1881 L231 1859.5 L299 1859.5" fill="none" stroke="#111" stroke-width="3"/>
<path d="M658 1881 L481 1881 L459 1859.5 L391 1859.5" fill="none" stroke="#111" stroke-width="3"/>
<circle cx="32" cy="1881" r="4.5" fill="#111"/><circle cx="658" cy="1881" r="4.5" fill="#111"/>
<circle cx="299" cy="1859.5" r="4.5" fill="#111"/><circle cx="391" cy="1859.5" r="4.5" fill="#111"/>
<g fill="#111" stroke="#111">
<circle cx="333.5" cy="1857" r="4.2" stroke="none"/>
<circle cx="338.5" cy="1865" r="4.2" stroke="none"/>
<path d="M331 1858 Q327 1866 334 1873" fill="none" stroke-width="3.6" stroke-linecap="round"/>
<path d="M335 1870 Q343 1872 342 1880 Q340 1890 330 1900" fill="none" stroke-width="4.2" stroke-linecap="round"/>
<path d="M340 1877 Q347 1880 355 1879" fill="none" stroke-width="2.8" stroke-linecap="round"/>
<path d="M338 1884 Q333 1892 322 1892" fill="none" stroke-width="3" stroke-linecap="round"/>
<path d="M348 1857 L368 1857 M350 1857 L352 1869 M366 1857 L363 1870" fill="none" stroke-width="2.6" stroke-linecap="round"/>
</g>
</svg>
<div class="t" style="left:0;top:1810px;width:690px;text-align:center;font-weight:bold;font-size:30px;letter-spacing:4px;color:#111;padding-left:4px;-webkit-text-stroke:1.2px #111">比赛四要素</div>
<svg class="a" style="left:29px;top:1922.5px" width="58" height="58"><use href="#logoL"/></svg>
<svg class="a" style="left:603px;top:1922.5px" width="58" height="58"><use href="#logoR"/></svg>
<div class="a" style="left:104px;top:1943px;width:37px;height:18px;background:#f9be18"></div>
<div class="a" style="left:549px;top:1943px;width:38px;height:18px;background:#8a0000"></div>
<svg class="a" style="left:0;top:0" width="690" height="2700" viewBox="0 0 690 2700"><defs><filter id="trsh" x="-5%" y="-30%" width="110%" height="160%"><feDropShadow dx="0" dy="1" stdDeviation="2" flood-color="#000" flood-opacity="0.08"/></filter></defs>
<path d="M94 2016 L641 2016 A26 26 0 0 1 641 2068 L94 2068 Z" fill="#f7f7f7" stroke="#e4e4e4" stroke-width="1" filter="url(#trsh)"/><path d="M94 2078 L641 2078 A26 26 0 0 1 641 2130 L94 2130 Z" fill="#f7f7f7" stroke="#e4e4e4" stroke-width="1" filter="url(#trsh)"/><path d="M94 2172 L641 2172 A26 26 0 0 1 641 2224 L94 2224 Z" fill="#f7f7f7" stroke="#e4e4e4" stroke-width="1" filter="url(#trsh)"/><path d="M94 2234 L641 2234 A26 26 0 0 1 641 2286 L94 2286 Z" fill="#f7f7f7" stroke="#e4e4e4" stroke-width="1" filter="url(#trsh)"/><path d="M94 2328 L641 2328 A26 26 0 0 1 641 2380 L94 2380 Z" fill="#f7f7f7" stroke="#e4e4e4" stroke-width="1" filter="url(#trsh)"/><path d="M94 2390 L641 2390 A26 26 0 0 1 641 2442 L94 2442 Z" fill="#f7f7f7" stroke="#e4e4e4" stroke-width="1" filter="url(#trsh)"/><path d="M94 2484 L641 2484 A26 26 0 0 1 641 2536 L94 2536 Z" fill="#f7f7f7" stroke="#e4e4e4" stroke-width="1" filter="url(#trsh)"/><path d="M94 2546 L641 2546 A26 26 0 0 1 641 2598 L94 2598 Z" fill="#f7f7f7" stroke="#e4e4e4" stroke-width="1" filter="url(#trsh)"/><path d="M375 2012 L375 2600 M648.5 2012 L648.5 2600" stroke="#d9d9d9" stroke-width="1" stroke-dasharray="4 3"/><path d="M96 2018 L624.0 2018 A25 25 0 0 1 624.0 2068 L96 2068 Z" fill="#f9be18"/><path d="M96 2080 L447.0 2080 A25 25 0 0 1 447.0 2130 L96 2130 Z" fill="#8a0000"/><path d="M375 2018 L375 2068" stroke="#fff" stroke-width="1.2" stroke-dasharray="4 3" opacity="0.85"/><path d="M375 2080 L375 2130" stroke="#fff" stroke-width="1.2" stroke-dasharray="4 3" opacity="0.85"/><path d="M96 2174 L362.0 2174 A25 25 0 0 1 362.0 2224 L96 2224 Z" fill="#f9be18"/><path d="M96 2236 L476.5 2236 A25 25 0 0 1 476.5 2286 L96 2286 Z" fill="#8a0000"/><path d="M375 2174 L375 2224" stroke="#fff" stroke-width="1.2" stroke-dasharray="4 3" opacity="0.85"/><path d="M375 2236 L375 2286" stroke="#fff" stroke-width="1.2" stroke-dasharray="4 3" opacity="0.85"/><path d="M96 2330 L96.0 2330 A6.599999999999994 25 0 0 1 96.0 2380 L96 2380 Z" fill="#f9be18"/><path d="M96 2392 L287.6 2392 A25 25 0 0 1 287.6 2442 L96 2442 Z" fill="#8a0000"/><path d="M96 2486 L635.7 2486 A25 25 0 0 1 635.7 2536 L96 2536 Z" fill="#f9be18"/><path d="M96 2548 L602.6 2548 A25 25 0 0 1 602.6 2598 L96 2598 Z" fill="#8a0000"/><path d="M375 2486 L375 2536" stroke="#fff" stroke-width="1.2" stroke-dasharray="4 3" opacity="0.85"/><path d="M648.5 2486 L648.5 2536" stroke="#fff" stroke-width="1.2" stroke-dasharray="4 3" opacity="0.85"/><path d="M375 2548 L375 2598" stroke="#fff" stroke-width="1.2" stroke-dasharray="4 3" opacity="0.85"/>
</svg>
<div class="a" style="left:32px;top:2015.2px;width:28px;font-size:25px;line-height:23.5px;color:#222;text-align:center">有<br>效<br>命<br>中<br>率</div><div class="t sf" style="left:431.0px;top:2033px;width:200px;text-align:right;font-size:23.5px;color:#fff7dc">64.3%</div><div class="t sf" style="left:487.0px;top:2095px;font-size:23.5px;color:#222">52.2%</div><div class="a" style="left:32px;top:2194.8px;width:28px;font-size:25px;line-height:23.5px;color:#222;text-align:center">失<br>误<br>率</div><div class="t sf" style="left:402.0px;top:2189px;font-size:23.5px;color:#222">20.0%</div><div class="t sf" style="left:516.5px;top:2251px;font-size:23.5px;color:#222">17.2%</div><div class="a" style="left:32px;top:2327.2px;width:28px;font-size:25px;line-height:23.5px;color:#222;text-align:center">进<br>攻<br>篮<br>板<br>率</div><div class="t sf" style="left:117.6px;top:2345px;font-size:23.5px;color:#222">10.0%</div><div class="t sf" style="left:327.6px;top:2407px;font-size:23.5px;color:#222">27.8%</div><div class="a" style="left:32px;top:2506.8px;width:28px;font-size:25px;line-height:23.5px;color:#222;text-align:center">罚<br>球<br>率</div><div class="t sf" style="left:442.7px;top:2501px;width:200px;text-align:right;font-size:23.5px;color:#fff7dc">46.4%</div><div class="t sf" style="left:409.6px;top:2563px;width:200px;text-align:right;font-size:23.5px;color:#fff">36.8%</div>
<div class="t" style="left:353px;top:2617px;font-size:23px;color:#666">中游</div>
<div class="t" style="left:627px;top:2617px;font-size:23px;color:#666">最佳</div>
<svg class="a" style="left:0;top:0" width="690" height="4556" viewBox="0 0 690 4556">
<path d="M29.0 2744 L33.2 2744 L40.2 2729 L36.0 2729 Z" fill="#2a2a2a" fill-opacity="1.00"/><path d="M35.6 2744 L39.8 2744 L46.8 2729 L42.6 2729 Z" fill="#2a2a2a" fill-opacity="1.00"/><path d="M42.2 2744 L46.4 2744 L53.4 2729 L49.2 2729 Z" fill="#2a2a2a" fill-opacity="1.00"/><path d="M48.8 2744 L53.0 2744 L60.0 2729 L55.8 2729 Z" fill="#2a2a2a" fill-opacity="1.00"/><path d="M55.4 2744 L59.6 2744 L66.6 2729 L62.4 2729 Z" fill="#2a2a2a" fill-opacity="1.00"/><path d="M62.0 2744 L66.2 2744 L73.2 2729 L69.0 2729 Z" fill="#2a2a2a" fill-opacity="1.00"/><path d="M68.6 2744 L72.8 2744 L79.8 2729 L75.6 2729 Z" fill="#2a2a2a" fill-opacity="1.00"/><path d="M75.2 2744 L79.4 2744 L86.4 2729 L82.2 2729 Z" fill="#2a2a2a" fill-opacity="1.00"/><path d="M81.8 2744 L86.0 2744 L93.0 2729 L88.8 2729 Z" fill="#2a2a2a" fill-opacity="1.00"/><path d="M88.4 2744 L92.6 2744 L99.6 2729 L95.4 2729 Z" fill="#2a2a2a" fill-opacity="1.00"/><path d="M95.0 2744 L99.2 2744 L106.2 2729 L102.0 2729 Z" fill="#2a2a2a" fill-opacity="0.82"/><path d="M101.6 2744 L105.8 2744 L112.8 2729 L108.6 2729 Z" fill="#2a2a2a" fill-opacity="0.55"/><path d="M108.2 2744 L112.4 2744 L119.4 2729 L115.2 2729 Z" fill="#2a2a2a" fill-opacity="0.52"/><path d="M114.8 2744 L119.0 2744 L126.0 2729 L121.8 2729 Z" fill="#2a2a2a" fill-opacity="0.48"/><path d="M121.4 2744 L125.6 2744 L132.6 2729 L128.4 2729 Z" fill="#2a2a2a" fill-opacity="0.45"/><path d="M128.0 2744 L132.2 2744 L139.2 2729 L135.0 2729 Z" fill="#2a2a2a" fill-opacity="0.42"/><path d="M134.6 2744 L138.8 2744 L145.8 2729 L141.6 2729 Z" fill="#2a2a2a" fill-opacity="0.39"/><path d="M141.2 2744 L145.4 2744 L152.4 2729 L148.2 2729 Z" fill="#2a2a2a" fill-opacity="0.36"/><path d="M147.8 2744 L152.0 2744 L159.0 2729 L154.8 2729 Z" fill="#2a2a2a" fill-opacity="0.33"/><path d="M154.4 2744 L158.6 2744 L165.6 2729 L161.4 2729 Z" fill="#2a2a2a" fill-opacity="0.29"/><path d="M161.0 2744 L165.2 2744 L172.2 2729 L168.0 2729 Z" fill="#2a2a2a" fill-opacity="0.26"/><path d="M167.6 2744 L171.8 2744 L178.8 2729 L174.6 2729 Z" fill="#2a2a2a" fill-opacity="0.23"/><path d="M174.2 2744 L178.4 2744 L185.4 2729 L181.2 2729 Z" fill="#2a2a2a" fill-opacity="0.20"/><path d="M180.8 2744 L185.0 2744 L192.0 2729 L187.8 2729 Z" fill="#2a2a2a" fill-opacity="0.17"/><path d="M187.4 2744 L191.6 2744 L198.6 2729 L194.4 2729 Z" fill="#2a2a2a" fill-opacity="0.14"/><path d="M194.0 2744 L198.2 2744 L205.2 2729 L201.0 2729 Z" fill="#2a2a2a" fill-opacity="0.10"/><path d="M661.5 2729 L657.3 2729 L650.3 2744 L654.5 2744 Z" fill="#2a2a2a" fill-opacity="1.00"/><path d="M654.9 2729 L650.7 2729 L643.7 2744 L647.9 2744 Z" fill="#2a2a2a" fill-opacity="1.00"/><path d="M648.3 2729 L644.1 2729 L637.1 2744 L641.3 2744 Z" fill="#2a2a2a" fill-opacity="1.00"/><path d="M641.7 2729 L637.5 2729 L630.5 2744 L634.7 2744 Z" fill="#2a2a2a" fill-opacity="1.00"/><path d="M635.1 2729 L630.9 2729 L623.9 2744 L628.1 2744 Z" fill="#2a2a2a" fill-opacity="1.00"/><path d="M628.5 2729 L624.3 2729 L617.3 2744 L621.5 2744 Z" fill="#2a2a2a" fill-opacity="1.00"/><path d="M621.9 2729 L617.7 2729 L610.7 2744 L614.9 2744 Z" fill="#2a2a2a" fill-opacity="1.00"/><path d="M615.3 2729 L611.1 2729 L604.1 2744 L608.3 2744 Z" fill="#2a2a2a" fill-opacity="1.00"/><path d="M608.7 2729 L604.5 2729 L597.5 2744 L601.7 2744 Z" fill="#2a2a2a" fill-opacity="1.00"/><path d="M602.1 2729 L597.9 2729 L590.9 2744 L595.1 2744 Z" fill="#2a2a2a" fill-opacity="1.00"/><path d="M595.5 2729 L591.3 2729 L584.3 2744 L588.5 2744 Z" fill="#2a2a2a" fill-opacity="0.82"/><path d="M588.9 2729 L584.7 2729 L577.7 2744 L581.9 2744 Z" fill="#2a2a2a" fill-opacity="0.55"/><path d="M582.3 2729 L578.1 2729 L571.1 2744 L575.3 2744 Z" fill="#2a2a2a" fill-opacity="0.52"/><path d="M575.7 2729 L571.5 2729 L564.5 2744 L568.7 2744 Z" fill="#2a2a2a" fill-opacity="0.48"/><path d="M569.1 2729 L564.9 2729 L557.9 2744 L562.1 2744 Z" fill="#2a2a2a" fill-opacity="0.45"/><path d="M562.5 2729 L558.3 2729 L551.3 2744 L555.5 2744 Z" fill="#2a2a2a" fill-opacity="0.42"/><path d="M555.9 2729 L551.7 2729 L544.7 2744 L548.9 2744 Z" fill="#2a2a2a" fill-opacity="0.39"/><path d="M549.3 2729 L545.1 2729 L538.1 2744 L542.3 2744 Z" fill="#2a2a2a" fill-opacity="0.36"/><path d="M542.7 2729 L538.5 2729 L531.5 2744 L535.7 2744 Z" fill="#2a2a2a" fill-opacity="0.33"/><path d="M536.1 2729 L531.9 2729 L524.9 2744 L529.1 2744 Z" fill="#2a2a2a" fill-opacity="0.29"/><path d="M529.5 2729 L525.3 2729 L518.3 2744 L522.5 2744 Z" fill="#2a2a2a" fill-opacity="0.26"/><path d="M522.9 2729 L518.7 2729 L511.7 2744 L515.9 2744 Z" fill="#2a2a2a" fill-opacity="0.23"/><path d="M516.3 2729 L512.1 2729 L505.1 2744 L509.3 2744 Z" fill="#2a2a2a" fill-opacity="0.20"/><path d="M509.7 2729 L505.5 2729 L498.5 2744 L502.7 2744 Z" fill="#2a2a2a" fill-opacity="0.17"/><path d="M503.1 2729 L498.9 2729 L491.9 2744 L496.1 2744 Z" fill="#2a2a2a" fill-opacity="0.14"/><path d="M496.5 2729 L492.3 2729 L485.3 2744 L489.5 2744 Z" fill="#2a2a2a" fill-opacity="0.10"/>
<path d="M32 2763 L209 2763 L231 2741.5 L299 2741.5" fill="none" stroke="#111" stroke-width="3"/>
<path d="M658 2763 L481 2763 L459 2741.5 L391 2741.5" fill="none" stroke="#111" stroke-width="3"/>
<circle cx="32" cy="2763" r="4.5" fill="#111"/><circle cx="658" cy="2763" r="4.5" fill="#111"/>
<circle cx="299" cy="2741.5" r="4.5" fill="#111"/><circle cx="391" cy="2741.5" r="4.5" fill="#111"/>
<g>
<path d="M348.3 2733 L352.2 2742.5 L362.5 2743.2 L354.6 2749.8 L357.2 2759.8 L348.3 2754.3 L339.4 2759.8 L342 2749.8 L334.1 2743.2 L344.4 2742.5 Z" fill="none" stroke="#111" stroke-width="2.6" stroke-linejoin="miter"/>
<rect x="339.5" y="2765" width="19.5" height="9" fill="#111"/>
<rect x="336" y="2774.8" width="26" height="3" fill="#111"/>
</g>
</svg>
<div class="t" style="left:0;top:2692px;width:690px;text-align:center;font-weight:bold;font-size:30px;letter-spacing:4px;color:#111;padding-left:4px;-webkit-text-stroke:1.2px #111">全队最佳</div>
<svg class="a" style="left:31px;top:2800px" width="54" height="54"><use href="#logoL"/></svg>
<svg class="a" style="left:605px;top:2800px" width="54" height="54"><use href="#logoR"/></svg>
<div class="a" style="left:104px;top:2818px;width:37px;height:18px;background:#f9be18"></div>
<div class="a" style="left:549px;top:2818px;width:38px;height:18px;background:#8a0000"></div>
<div class="t sf" style="left:-18px;top:2897px;width:330px;text-align:right;font-size:24px;font-weight:bold;color:#111">3号 克里斯汀 奇奥马 安妮格威</div>
<div class="t sf" style="left:380px;top:2897px;width:325px;text-align:center;font-size:24px;font-weight:bold;color:#111">3号 凯尔西. 蕾妮. 博恩</div>
<div class="t sf" style="left:-12.5px;top:2977.0px;width:320px;text-align:center;font-size:22px;color:#333">出场时间 31 分钟</div><div class="t sf" style="left:-12.5px;top:3014.2px;width:320px;text-align:center;font-size:22px;color:#333">31分&nbsp;&nbsp;&nbsp;&nbsp;10板&nbsp;&nbsp;&nbsp;&nbsp;2助攻</div><div class="t sf" style="left:-12.5px;top:3051.5px;width:320px;text-align:center;font-size:22px;color:#333">2断&nbsp;&nbsp;&nbsp;&nbsp;1帽&nbsp;&nbsp;&nbsp;&nbsp;0失误&nbsp;&nbsp;&nbsp;&nbsp;3犯规</div><div class="t sf" style="left:-12.5px;top:3088.7px;width:320px;text-align:center;font-size:22px;color:#333">篮下0/0&nbsp;&nbsp;&nbsp;&nbsp;中投0/0</div><div class="t sf" style="left:-12.5px;top:3125.9px;width:320px;text-align:center;font-size:22px;color:#333">三分0/0&nbsp;&nbsp;&nbsp;&nbsp;罚球7/10</div><div class="t sf" style="left:-12.5px;top:3163.2px;width:320px;text-align:center;font-size:22px;color:#333">回合占有率 29%</div><div class="t sf" style="left:-12.5px;top:3200.4px;width:320px;text-align:center;font-size:22px;color:#333">真实命中率 80%</div>
<div class="t sf" style="left:382.5px;top:2977.0px;width:320px;text-align:center;font-size:22px;color:#333">出场时间 28 分钟</div><div class="t sf" style="left:382.5px;top:3014.2px;width:320px;text-align:center;font-size:22px;color:#333">24分&nbsp;&nbsp;&nbsp;&nbsp;6板&nbsp;&nbsp;&nbsp;&nbsp;5助攻</div><div class="t sf" style="left:382.5px;top:3051.5px;width:320px;text-align:center;font-size:22px;color:#333">1断&nbsp;&nbsp;&nbsp;&nbsp;0帽&nbsp;&nbsp;&nbsp;&nbsp;3失误&nbsp;&nbsp;&nbsp;&nbsp;3犯规</div><div class="t sf" style="left:382.5px;top:3088.7px;width:320px;text-align:center;font-size:22px;color:#333">篮下0/0&nbsp;&nbsp;&nbsp;&nbsp;中投0/0</div><div class="t sf" style="left:382.5px;top:3125.9px;width:320px;text-align:center;font-size:22px;color:#333">三分0/0&nbsp;&nbsp;&nbsp;&nbsp;罚球4/8</div><div class="t sf" style="left:382.5px;top:3163.2px;width:320px;text-align:center;font-size:22px;color:#333">回合占有率 28%</div><div class="t sf" style="left:382.5px;top:3200.4px;width:320px;text-align:center;font-size:22px;color:#333">真实命中率 77%</div>
<svg class="a" style="left:0;top:0" width="690" height="4000" viewBox="0 0 690 4000">
<defs><filter id="ksh" x="-50%" y="-50%" width="200%" height="200%"><feDropShadow dx="0" dy="0" stdDeviation="1.2" flood-color="#000" flood-opacity="0.25"/></filter></defs>
<path d="M382.8 3341 L626 3341 A16 16 0 0 1 626 3373 L382.8 3373 Z" fill="#8a0000"/><path d="M64 3341 L382.8 3341 L382.8 3373 L64 3373 A16 16 0 0 1 64 3341 Z" fill="#f9be18"/><circle cx="382.8" cy="3357" r="17" fill="#fff" filter="url(#ksh)"/><path d="M345.0 3483.5 L626 3483.5 A16 16 0 0 1 626 3515.5 L345.0 3515.5 Z" fill="#8a0000"/><path d="M64 3483.5 L345.0 3483.5 L345.0 3515.5 L64 3515.5 A16 16 0 0 1 64 3483.5 Z" fill="#f9be18"/><circle cx="345.0" cy="3499.5" r="17" fill="#fff" filter="url(#ksh)"/><path d="M413.5 3625 L626 3625 A16 16 0 0 1 626 3657 L413.5 3657 Z" fill="#8a0000"/><path d="M64 3625 L413.5 3625 L413.5 3657 L64 3657 A16 16 0 0 1 64 3625 Z" fill="#f9be18"/><circle cx="413.5" cy="3641" r="17" fill="#fff" filter="url(#ksh)"/><path d="M345.0 3767.5 L626 3767.5 A16 16 0 0 1 626 3799.5 L345.0 3799.5 Z" fill="#8a0000"/><path d="M64 3767.5 L345.0 3767.5 L345.0 3799.5 L64 3799.5 A16 16 0 0 1 64 3767.5 Z" fill="#f9be18"/><circle cx="345.0" cy="3783.5" r="17" fill="#fff" filter="url(#ksh)"/><path d="M345.0 3909 L626 3909 A16 16 0 0 1 626 3941 L345.0 3941 Z" fill="#8a0000"/><path d="M64 3909 L345.0 3909 L345.0 3941 L64 3941 A16 16 0 0 1 64 3909 Z" fill="#f9be18"/><circle cx="345.0" cy="3925" r="17" fill="#fff" filter="url(#ksh)"/>
</svg>
<div class="t sf" style="left:48px;top:3299px;font-size:22px;color:#222">克里斯汀 奇奥马 安妮格威 31 分</div><div class="t sf" style="left:300px;top:3299px;width:340px;text-align:right;font-size:22px;color:#222">凯尔西. 蕾妮. 博恩 24 分</div><div class="t" style="left:295px;top:3298px;width:100px;text-align:center;font-size:24px;font-weight:bold;color:#111">得分</div><div class="t sf" style="left:48px;top:3441.5px;font-size:22px;color:#222">克里斯汀 奇奥马 安妮格威 10 个</div><div class="t sf" style="left:300px;top:3441.5px;width:340px;text-align:right;font-size:22px;color:#222">艾玛 简 加依 10 个</div><div class="t" style="left:295px;top:3440.5px;width:100px;text-align:center;font-size:24px;font-weight:bold;color:#111">篮板</div><div class="t sf" style="left:48px;top:3583px;font-size:22px;color:#222">孙梦昕 8 个</div><div class="t sf" style="left:300px;top:3583px;width:340px;text-align:right;font-size:22px;color:#222">凯尔西. 蕾妮. 博恩 5 个</div><div class="t" style="left:295px;top:3582px;width:100px;text-align:center;font-size:24px;font-weight:bold;color:#111">助攻</div><div class="t sf" style="left:48px;top:3725.5px;font-size:22px;color:#222">孙梦昕 2 个</div><div class="t sf" style="left:300px;top:3725.5px;width:340px;text-align:right;font-size:22px;color:#222">孙丽 2 个</div><div class="t" style="left:295px;top:3724.5px;width:100px;text-align:center;font-size:24px;font-weight:bold;color:#111">抢断</div><div class="t sf" style="left:48px;top:3867px;font-size:22px;color:#222">孙梦昕 1 个</div><div class="t sf" style="left:300px;top:3867px;width:340px;text-align:right;font-size:22px;color:#222">彭华倩 1 个</div><div class="t" style="left:295px;top:3866px;width:100px;text-align:center;font-size:24px;font-weight:bold;color:#111">盖帽</div>
<svg class="a" style="left:0;top:0" width="690" height="4556" viewBox="0 0 690 4556">
<defs><filter id="qsh" x="-20%" y="-20%" width="140%" height="140%"><feDropShadow dx="0" dy="1" stdDeviation="2" flood-color="#000" flood-opacity="0.06"/></filter></defs>
<rect x="99" y="4027" width="168" height="165" rx="22" fill="#fff" filter="url(#qsh)"/>
<rect x="427" y="4027" width="167" height="165" rx="22" fill="#fff" filter="url(#qsh)"/>
<path d="M185.0 4072.5L185.0 4069.5M185.0 4066.5L185.0 4056.5M188.5 4072.7L188.9 4068.7M189.8 4059.7L190.6 4051.8M190.9 4048.8L191.5 4042.8M193.2 4067.3L194.4 4061.4M197.1 4047.7L197.9 4043.8M195.5 4074.1L198.9 4062.6M198.8 4075.2L202.6 4066.0M203.8 4063.2L204.9 4060.5M206.0 4057.7L209.1 4050.3M202.0 4076.8L203.4 4074.1M210.0 4061.8L215.6 4051.2M205.0 4078.6L208.3 4073.6M207.8 4080.7L212.9 4074.5M214.8 4072.2L217.4 4069.1M223.1 4062.1L226.9 4057.5M226.0 4067.5L228.8 4064.7M212.8 4085.7L219.0 4080.6M228.3 4073.0L236.0 4066.6M214.9 4088.5L221.6 4084.1M224.1 4082.4L227.4 4080.2M216.7 4091.5L223.8 4087.8M239.7 4079.3L243.2 4077.4M218.3 4094.7L223.8 4092.4M226.6 4091.3L234.0 4088.2M236.7 4087.1L246.0 4083.2M219.4 4098.0L225.2 4096.3M236.7 4092.8L239.5 4092.0M220.3 4101.5L224.2 4100.7M248.8 4095.8L249.7 4095.6M220.8 4105.0L230.8 4104.0M228.0 4108.5L238.0 4108.5M239.7 4113.9L245.7 4114.5M248.7 4114.8L250.7 4115.0M242.9 4120.0L248.8 4121.2M219.4 4119.0L223.3 4120.1M226.1 4121.0L235.7 4123.9M218.3 4122.3L229.3 4126.9M232.1 4128.0L239.5 4131.1M216.7 4125.5L219.4 4126.9M222.0 4128.3L227.3 4131.1M230.0 4132.5L238.8 4137.3M214.9 4128.5L219.9 4131.8M222.4 4133.5L232.4 4140.2M234.9 4141.8L239.9 4145.2M212.8 4131.3L222.1 4139.0M224.4 4140.9L232.2 4147.2M216.8 4140.3L218.9 4142.4M228.8 4152.3L231.7 4155.2M207.8 4136.3L215.5 4145.6M217.4 4147.9L219.9 4151.0M221.8 4153.3L226.9 4159.5M218.3 4158.4L220.6 4161.7M202.0 4140.2L204.8 4145.5M206.2 4148.2L210.9 4157.0M212.3 4159.7L215.2 4164.9M198.8 4141.8L201.8 4149.2M208.0 4163.9L210.3 4169.5M197.5 4149.6L198.4 4152.5M203.9 4170.7L204.2 4171.7M192.0 4143.8L192.6 4146.8M188.5 4144.3L189.3 4152.3M189.6 4155.3L189.9 4158.3M191.3 4172.2L191.5 4174.2M185.0 4157.5L185.0 4167.5M180.0 4159.3L178.8 4171.2M174.7 4160.5L173.9 4164.4M171.4 4153.5L167.9 4165.0M166.2 4153.8L164.0 4159.3M162.8 4162.1L161.7 4164.9M161.9 4151.7L160.5 4154.4M159.1 4157.0L154.4 4165.8M155.6 4152.6L151.1 4159.2M159.5 4134.0L152.5 4141.0M150.4 4143.1L141.9 4151.6M157.2 4131.3L151.0 4136.4M137.1 4147.8L134.8 4149.7M155.1 4128.5L152.6 4130.2M150.1 4131.8L147.6 4133.5M145.1 4135.2L136.8 4140.7M153.3 4125.5L150.6 4126.9M128.6 4138.7L126.8 4139.6M144.8 4120.7L141.9 4121.6M124.7 4126.8L121.8 4127.7M149.7 4115.5L143.8 4116.7M140.9 4117.3L131.1 4119.2M149.2 4112.0L143.2 4112.6M142.0 4108.5L139.0 4108.5M136.0 4108.5L124.0 4108.5M121.0 4108.5L119.0 4108.5M138.2 4103.9L128.3 4102.9M125.3 4102.6L119.3 4102.0M135.0 4098.6L125.2 4096.6M132.4 4092.5L122.8 4089.6M151.7 4094.7L148.0 4093.2M145.3 4092.0L134.2 4087.5M153.3 4091.5L148.0 4088.7M145.3 4087.3L138.3 4083.5M135.6 4082.1L133.0 4080.7M155.1 4088.5L146.8 4082.9M133.4 4074.1L130.1 4071.8M157.2 4085.7L154.9 4083.8M159.5 4083.0L156.7 4080.2M158.4 4076.0L153.3 4069.8M165.0 4078.6L163.3 4076.1M161.7 4073.6L156.1 4065.3M149.4 4055.3L148.3 4053.6M161.9 4065.3L160.0 4061.8M158.6 4059.1L157.2 4056.5M155.8 4053.8L153.9 4050.3M162.0 4053.1L160.5 4049.4M174.5 4074.1L172.2 4066.4M171.4 4063.5L170.5 4060.7M166.4 4047.3L165.8 4045.3M178.0 4073.2L177.4 4070.2M174.3 4054.6L173.7 4051.6M173.1 4048.7L172.1 4043.8M181.5 4072.7L180.5 4062.7M180.2 4059.7L179.6 4053.8" stroke="#2a2a2a" stroke-width="2.6" stroke-linecap="round" fill="none"/>
<circle cx="185" cy="4108.5" r="33" fill="#fff"/>
<circle cx="139.2" cy="4067" r="9" fill="#fff"/><circle cx="139.2" cy="4067" r="6" fill="none" stroke="#2a2a2a" stroke-width="2"/><circle cx="139.2" cy="4067" r="2.2" fill="#2a2a2a"/><circle cx="226.4" cy="4067" r="9" fill="#fff"/><circle cx="226.4" cy="4067" r="6" fill="none" stroke="#2a2a2a" stroke-width="2"/><circle cx="226.4" cy="4067" r="2.2" fill="#2a2a2a"/><circle cx="139.2" cy="4150" r="9" fill="#fff"/><circle cx="139.2" cy="4150" r="6" fill="none" stroke="#2a2a2a" stroke-width="2"/><circle cx="139.2" cy="4150" r="2.2" fill="#2a2a2a"/>
<path d="M159 4093 h13 q9 0 9 9 v12.7 q0 9 -9 9 h-13 z M164.5 4099 v19 h7 q3.5 0 3.5 -3.5 v-12 q0 -3.5 -3.5 -3.5 z" fill="#1f3566" fill-rule="evenodd"/>
<path d="M196 4093 L210 4108.4 L196 4123.7 L182 4108.4 Z M196 4101 L189 4108.4 L196 4116 L203 4108.4 Z" fill="#1f3566" fill-rule="evenodd"/>
<circle cx="226.4" cy="4151" r="15" fill="#fff"/>
<circle cx="226.4" cy="4151" r="13.5" fill="#2db24a"/>
<path d="M220 4156 q-4 -4 0 -8 l3 -3 q4 -4 8 0 M232.8 4146 q4 4 0 8 l-3 3 q-4 4 -8 0 M223 4155 l7 -7" stroke="#fff" stroke-width="2.2" fill="none" stroke-linecap="round"/>
<path d="M446.40 4046.40h3.47v3.47h-3.47zM449.72 4046.40h3.47v3.47h-3.47zM453.05 4046.40h3.47v3.47h-3.47zM456.37 4046.40h3.47v3.47h-3.47zM459.70 4046.40h3.47v3.47h-3.47zM463.02 4046.40h3.47v3.47h-3.47zM466.35 4046.40h3.47v3.47h-3.47zM472.99 4046.40h3.47v3.47h-3.47zM476.32 4046.40h3.47v3.47h-3.47zM479.64 4046.40h3.47v3.47h-3.47zM482.97 4046.40h3.47v3.47h-3.47zM486.29 4046.40h3.47v3.47h-3.47zM492.94 4046.40h3.47v3.47h-3.47zM496.26 4046.40h3.47v3.47h-3.47zM509.56 4046.40h3.47v3.47h-3.47zM516.21 4046.40h3.47v3.47h-3.47zM522.86 4046.40h3.47v3.47h-3.47zM526.18 4046.40h3.47v3.47h-3.47zM529.51 4046.40h3.47v3.47h-3.47zM532.83 4046.40h3.47v3.47h-3.47zM539.48 4046.40h3.47v3.47h-3.47zM546.13 4046.40h3.47v3.47h-3.47zM549.45 4046.40h3.47v3.47h-3.47zM552.78 4046.40h3.47v3.47h-3.47zM556.10 4046.40h3.47v3.47h-3.47zM559.43 4046.40h3.47v3.47h-3.47zM562.75 4046.40h3.47v3.47h-3.47zM566.08 4046.40h3.47v3.47h-3.47zM446.40 4049.72h3.47v3.47h-3.47zM466.35 4049.72h3.47v3.47h-3.47zM486.29 4049.72h3.47v3.47h-3.47zM492.94 4049.72h3.47v3.47h-3.47zM496.26 4049.72h3.47v3.47h-3.47zM502.91 4049.72h3.47v3.47h-3.47zM509.56 4049.72h3.47v3.47h-3.47zM526.18 4049.72h3.47v3.47h-3.47zM546.13 4049.72h3.47v3.47h-3.47zM566.08 4049.72h3.47v3.47h-3.47zM446.40 4053.05h3.47v3.47h-3.47zM453.05 4053.05h3.47v3.47h-3.47zM456.37 4053.05h3.47v3.47h-3.47zM459.70 4053.05h3.47v3.47h-3.47zM466.35 4053.05h3.47v3.47h-3.47zM472.99 4053.05h3.47v3.47h-3.47zM479.64 4053.05h3.47v3.47h-3.47zM482.97 4053.05h3.47v3.47h-3.47zM486.29 4053.05h3.47v3.47h-3.47zM492.94 4053.05h3.47v3.47h-3.47zM512.89 4053.05h3.47v3.47h-3.47zM516.21 4053.05h3.47v3.47h-3.47zM519.54 4053.05h3.47v3.47h-3.47zM529.51 4053.05h3.47v3.47h-3.47zM532.83 4053.05h3.47v3.47h-3.47zM536.16 4053.05h3.47v3.47h-3.47zM539.48 4053.05h3.47v3.47h-3.47zM546.13 4053.05h3.47v3.47h-3.47zM552.78 4053.05h3.47v3.47h-3.47zM556.10 4053.05h3.47v3.47h-3.47zM559.43 4053.05h3.47v3.47h-3.47zM566.08 4053.05h3.47v3.47h-3.47zM446.40 4056.37h3.47v3.47h-3.47zM453.05 4056.37h3.47v3.47h-3.47zM456.37 4056.37h3.47v3.47h-3.47zM459.70 4056.37h3.47v3.47h-3.47zM466.35 4056.37h3.47v3.47h-3.47zM476.32 4056.37h3.47v3.47h-3.47zM479.64 4056.37h3.47v3.47h-3.47zM482.97 4056.37h3.47v3.47h-3.47zM489.62 4056.37h3.47v3.47h-3.47zM492.94 4056.37h3.47v3.47h-3.47zM496.26 4056.37h3.47v3.47h-3.47zM499.59 4056.37h3.47v3.47h-3.47zM502.91 4056.37h3.47v3.47h-3.47zM506.24 4056.37h3.47v3.47h-3.47zM509.56 4056.37h3.47v3.47h-3.47zM512.89 4056.37h3.47v3.47h-3.47zM516.21 4056.37h3.47v3.47h-3.47zM519.54 4056.37h3.47v3.47h-3.47zM522.86 4056.37h3.47v3.47h-3.47zM532.83 4056.37h3.47v3.47h-3.47zM536.16 4056.37h3.47v3.47h-3.47zM539.48 4056.37h3.47v3.47h-3.47zM546.13 4056.37h3.47v3.47h-3.47zM552.78 4056.37h3.47v3.47h-3.47zM556.10 4056.37h3.47v3.47h-3.47zM559.43 4056.37h3.47v3.47h-3.47zM566.08 4056.37h3.47v3.47h-3.47zM446.40 4059.70h3.47v3.47h-3.47zM453.05 4059.70h3.47v3.47h-3.47zM456.37 4059.70h3.47v3.47h-3.47zM459.70 4059.70h3.47v3.47h-3.47zM466.35 4059.70h3.47v3.47h-3.47zM476.32 4059.70h3.47v3.47h-3.47zM492.94 4059.70h3.47v3.47h-3.47zM496.26 4059.70h3.47v3.47h-3.47zM499.59 4059.70h3.47v3.47h-3.47zM512.89 4059.70h3.47v3.47h-3.47zM516.21 4059.70h3.47v3.47h-3.47zM539.48 4059.70h3.47v3.47h-3.47zM546.13 4059.70h3.47v3.47h-3.47zM552.78 4059.70h3.47v3.47h-3.47zM556.10 4059.70h3.47v3.47h-3.47zM559.43 4059.70h3.47v3.47h-3.47zM566.08 4059.70h3.47v3.47h-3.47zM446.40 4063.02h3.47v3.47h-3.47zM466.35 4063.02h3.47v3.47h-3.47zM472.99 4063.02h3.47v3.47h-3.47zM496.26 4063.02h3.47v3.47h-3.47zM516.21 4063.02h3.47v3.47h-3.47zM522.86 4063.02h3.47v3.47h-3.47zM532.83 4063.02h3.47v3.47h-3.47zM536.16 4063.02h3.47v3.47h-3.47zM546.13 4063.02h3.47v3.47h-3.47zM566.08 4063.02h3.47v3.47h-3.47zM446.40 4066.35h3.47v3.47h-3.47zM449.72 4066.35h3.47v3.47h-3.47zM453.05 4066.35h3.47v3.47h-3.47zM456.37 4066.35h3.47v3.47h-3.47zM459.70 4066.35h3.47v3.47h-3.47zM463.02 4066.35h3.47v3.47h-3.47zM466.35 4066.35h3.47v3.47h-3.47zM479.64 4066.35h3.47v3.47h-3.47zM489.62 4066.35h3.47v3.47h-3.47zM492.94 4066.35h3.47v3.47h-3.47zM496.26 4066.35h3.47v3.47h-3.47zM499.59 4066.35h3.47v3.47h-3.47zM506.24 4066.35h3.47v3.47h-3.47zM509.56 4066.35h3.47v3.47h-3.47zM512.89 4066.35h3.47v3.47h-3.47zM519.54 4066.35h3.47v3.47h-3.47zM532.83 4066.35h3.47v3.47h-3.47zM546.13 4066.35h3.47v3.47h-3.47zM549.45 4066.35h3.47v3.47h-3.47zM552.78 4066.35h3.47v3.47h-3.47zM556.10 4066.35h3.47v3.47h-3.47zM559.43 4066.35h3.47v3.47h-3.47zM562.75 4066.35h3.47v3.47h-3.47zM566.08 4066.35h3.47v3.47h-3.47zM476.32 4069.67h3.47v3.47h-3.47zM479.64 4069.67h3.47v3.47h-3.47zM539.48 4069.67h3.47v3.47h-3.47zM446.40 4072.99h3.47v3.47h-3.47zM459.70 4072.99h3.47v3.47h-3.47zM469.67 4072.99h3.47v3.47h-3.47zM479.64 4072.99h3.47v3.47h-3.47zM486.29 4072.99h3.47v3.47h-3.47zM499.59 4072.99h3.47v3.47h-3.47zM502.91 4072.99h3.47v3.47h-3.47zM509.56 4072.99h3.47v3.47h-3.47zM512.89 4072.99h3.47v3.47h-3.47zM516.21 4072.99h3.47v3.47h-3.47zM522.86 4072.99h3.47v3.47h-3.47zM532.83 4072.99h3.47v3.47h-3.47zM536.16 4072.99h3.47v3.47h-3.47zM546.13 4072.99h3.47v3.47h-3.47zM559.43 4072.99h3.47v3.47h-3.47zM562.75 4072.99h3.47v3.47h-3.47zM566.08 4072.99h3.47v3.47h-3.47zM449.72 4076.32h3.47v3.47h-3.47zM453.05 4076.32h3.47v3.47h-3.47zM456.37 4076.32h3.47v3.47h-3.47zM466.35 4076.32h3.47v3.47h-3.47zM469.67 4076.32h3.47v3.47h-3.47zM482.97 4076.32h3.47v3.47h-3.47zM486.29 4076.32h3.47v3.47h-3.47zM492.94 4076.32h3.47v3.47h-3.47zM496.26 4076.32h3.47v3.47h-3.47zM509.56 4076.32h3.47v3.47h-3.47zM516.21 4076.32h3.47v3.47h-3.47zM526.18 4076.32h3.47v3.47h-3.47zM536.16 4076.32h3.47v3.47h-3.47zM539.48 4076.32h3.47v3.47h-3.47zM546.13 4076.32h3.47v3.47h-3.47zM549.45 4076.32h3.47v3.47h-3.47zM552.78 4076.32h3.47v3.47h-3.47zM556.10 4076.32h3.47v3.47h-3.47zM559.43 4076.32h3.47v3.47h-3.47zM562.75 4076.32h3.47v3.47h-3.47zM566.08 4076.32h3.47v3.47h-3.47zM449.72 4079.64h3.47v3.47h-3.47zM456.37 4079.64h3.47v3.47h-3.47zM459.70 4079.64h3.47v3.47h-3.47zM463.02 4079.64h3.47v3.47h-3.47zM466.35 4079.64h3.47v3.47h-3.47zM469.67 4079.64h3.47v3.47h-3.47zM479.64 4079.64h3.47v3.47h-3.47zM489.62 4079.64h3.47v3.47h-3.47zM496.26 4079.64h3.47v3.47h-3.47zM506.24 4079.64h3.47v3.47h-3.47zM519.54 4079.64h3.47v3.47h-3.47zM532.83 4079.64h3.47v3.47h-3.47zM536.16 4079.64h3.47v3.47h-3.47zM539.48 4079.64h3.47v3.47h-3.47zM542.81 4079.64h3.47v3.47h-3.47zM546.13 4079.64h3.47v3.47h-3.47zM552.78 4079.64h3.47v3.47h-3.47zM556.10 4079.64h3.47v3.47h-3.47zM559.43 4079.64h3.47v3.47h-3.47zM449.72 4082.97h3.47v3.47h-3.47zM453.05 4082.97h3.47v3.47h-3.47zM456.37 4082.97h3.47v3.47h-3.47zM463.02 4082.97h3.47v3.47h-3.47zM469.67 4082.97h3.47v3.47h-3.47zM482.97 4082.97h3.47v3.47h-3.47zM489.62 4082.97h3.47v3.47h-3.47zM492.94 4082.97h3.47v3.47h-3.47zM496.26 4082.97h3.47v3.47h-3.47zM499.59 4082.97h3.47v3.47h-3.47zM509.56 4082.97h3.47v3.47h-3.47zM516.21 4082.97h3.47v3.47h-3.47zM519.54 4082.97h3.47v3.47h-3.47zM522.86 4082.97h3.47v3.47h-3.47zM526.18 4082.97h3.47v3.47h-3.47zM529.51 4082.97h3.47v3.47h-3.47zM532.83 4082.97h3.47v3.47h-3.47zM536.16 4082.97h3.47v3.47h-3.47zM539.48 4082.97h3.47v3.47h-3.47zM562.75 4082.97h3.47v3.47h-3.47zM566.08 4082.97h3.47v3.47h-3.47zM449.72 4086.29h3.47v3.47h-3.47zM459.70 4086.29h3.47v3.47h-3.47zM479.64 4086.29h3.47v3.47h-3.47zM512.89 4086.29h3.47v3.47h-3.47zM516.21 4086.29h3.47v3.47h-3.47zM519.54 4086.29h3.47v3.47h-3.47zM522.86 4086.29h3.47v3.47h-3.47zM526.18 4086.29h3.47v3.47h-3.47zM549.45 4086.29h3.47v3.47h-3.47zM446.40 4089.62h3.47v3.47h-3.47zM453.05 4089.62h3.47v3.47h-3.47zM456.37 4089.62h3.47v3.47h-3.47zM459.70 4089.62h3.47v3.47h-3.47zM466.35 4089.62h3.47v3.47h-3.47zM479.64 4089.62h3.47v3.47h-3.47zM499.59 4089.62h3.47v3.47h-3.47zM502.91 4089.62h3.47v3.47h-3.47zM506.24 4089.62h3.47v3.47h-3.47zM512.89 4089.62h3.47v3.47h-3.47zM519.54 4089.62h3.47v3.47h-3.47zM522.86 4089.62h3.47v3.47h-3.47zM526.18 4089.62h3.47v3.47h-3.47zM539.48 4089.62h3.47v3.47h-3.47zM552.78 4089.62h3.47v3.47h-3.47zM559.43 4089.62h3.47v3.47h-3.47zM446.40 4092.94h3.47v3.47h-3.47zM463.02 4092.94h3.47v3.47h-3.47zM466.35 4092.94h3.47v3.47h-3.47zM472.99 4092.94h3.47v3.47h-3.47zM479.64 4092.94h3.47v3.47h-3.47zM529.51 4092.94h3.47v3.47h-3.47zM532.83 4092.94h3.47v3.47h-3.47zM536.16 4092.94h3.47v3.47h-3.47zM539.48 4092.94h3.47v3.47h-3.47zM546.13 4092.94h3.47v3.47h-3.47zM556.10 4092.94h3.47v3.47h-3.47zM446.40 4096.26h3.47v3.47h-3.47zM449.72 4096.26h3.47v3.47h-3.47zM453.05 4096.26h3.47v3.47h-3.47zM463.02 4096.26h3.47v3.47h-3.47zM466.35 4096.26h3.47v3.47h-3.47zM469.67 4096.26h3.47v3.47h-3.47zM472.99 4096.26h3.47v3.47h-3.47zM476.32 4096.26h3.47v3.47h-3.47zM482.97 4096.26h3.47v3.47h-3.47zM532.83 4096.26h3.47v3.47h-3.47zM549.45 4096.26h3.47v3.47h-3.47zM552.78 4096.26h3.47v3.47h-3.47zM559.43 4096.26h3.47v3.47h-3.47zM566.08 4096.26h3.47v3.47h-3.47zM446.40 4099.59h3.47v3.47h-3.47zM456.37 4099.59h3.47v3.47h-3.47zM463.02 4099.59h3.47v3.47h-3.47zM469.67 4099.59h3.47v3.47h-3.47zM472.99 4099.59h3.47v3.47h-3.47zM476.32 4099.59h3.47v3.47h-3.47zM479.64 4099.59h3.47v3.47h-3.47zM536.16 4099.59h3.47v3.47h-3.47zM539.48 4099.59h3.47v3.47h-3.47zM546.13 4099.59h3.47v3.47h-3.47zM549.45 4099.59h3.47v3.47h-3.47zM552.78 4099.59h3.47v3.47h-3.47zM556.10 4099.59h3.47v3.47h-3.47zM562.75 4099.59h3.47v3.47h-3.47zM453.05 4102.91h3.47v3.47h-3.47zM456.37 4102.91h3.47v3.47h-3.47zM459.70 4102.91h3.47v3.47h-3.47zM463.02 4102.91h3.47v3.47h-3.47zM479.64 4102.91h3.47v3.47h-3.47zM482.97 4102.91h3.47v3.47h-3.47zM526.18 4102.91h3.47v3.47h-3.47zM556.10 4102.91h3.47v3.47h-3.47zM562.75 4102.91h3.47v3.47h-3.47zM449.72 4106.24h3.47v3.47h-3.47zM453.05 4106.24h3.47v3.47h-3.47zM456.37 4106.24h3.47v3.47h-3.47zM466.35 4106.24h3.47v3.47h-3.47zM469.67 4106.24h3.47v3.47h-3.47zM479.64 4106.24h3.47v3.47h-3.47zM482.97 4106.24h3.47v3.47h-3.47zM526.18 4106.24h3.47v3.47h-3.47zM529.51 4106.24h3.47v3.47h-3.47zM539.48 4106.24h3.47v3.47h-3.47zM542.81 4106.24h3.47v3.47h-3.47zM552.78 4106.24h3.47v3.47h-3.47zM556.10 4106.24h3.47v3.47h-3.47zM559.43 4106.24h3.47v3.47h-3.47zM562.75 4106.24h3.47v3.47h-3.47zM446.40 4109.56h3.47v3.47h-3.47zM459.70 4109.56h3.47v3.47h-3.47zM466.35 4109.56h3.47v3.47h-3.47zM472.99 4109.56h3.47v3.47h-3.47zM476.32 4109.56h3.47v3.47h-3.47zM482.97 4109.56h3.47v3.47h-3.47zM526.18 4109.56h3.47v3.47h-3.47zM529.51 4109.56h3.47v3.47h-3.47zM532.83 4109.56h3.47v3.47h-3.47zM552.78 4109.56h3.47v3.47h-3.47zM556.10 4109.56h3.47v3.47h-3.47zM566.08 4109.56h3.47v3.47h-3.47zM449.72 4112.89h3.47v3.47h-3.47zM453.05 4112.89h3.47v3.47h-3.47zM456.37 4112.89h3.47v3.47h-3.47zM459.70 4112.89h3.47v3.47h-3.47zM463.02 4112.89h3.47v3.47h-3.47zM466.35 4112.89h3.47v3.47h-3.47zM469.67 4112.89h3.47v3.47h-3.47zM476.32 4112.89h3.47v3.47h-3.47zM482.97 4112.89h3.47v3.47h-3.47zM486.29 4112.89h3.47v3.47h-3.47zM526.18 4112.89h3.47v3.47h-3.47zM536.16 4112.89h3.47v3.47h-3.47zM539.48 4112.89h3.47v3.47h-3.47zM542.81 4112.89h3.47v3.47h-3.47zM549.45 4112.89h3.47v3.47h-3.47zM559.43 4112.89h3.47v3.47h-3.47zM562.75 4112.89h3.47v3.47h-3.47zM449.72 4116.21h3.47v3.47h-3.47zM456.37 4116.21h3.47v3.47h-3.47zM459.70 4116.21h3.47v3.47h-3.47zM463.02 4116.21h3.47v3.47h-3.47zM479.64 4116.21h3.47v3.47h-3.47zM482.97 4116.21h3.47v3.47h-3.47zM532.83 4116.21h3.47v3.47h-3.47zM536.16 4116.21h3.47v3.47h-3.47zM539.48 4116.21h3.47v3.47h-3.47zM546.13 4116.21h3.47v3.47h-3.47zM549.45 4116.21h3.47v3.47h-3.47zM556.10 4116.21h3.47v3.47h-3.47zM559.43 4116.21h3.47v3.47h-3.47zM562.75 4116.21h3.47v3.47h-3.47zM446.40 4119.54h3.47v3.47h-3.47zM459.70 4119.54h3.47v3.47h-3.47zM463.02 4119.54h3.47v3.47h-3.47zM466.35 4119.54h3.47v3.47h-3.47zM479.64 4119.54h3.47v3.47h-3.47zM482.97 4119.54h3.47v3.47h-3.47zM526.18 4119.54h3.47v3.47h-3.47zM529.51 4119.54h3.47v3.47h-3.47zM532.83 4119.54h3.47v3.47h-3.47zM542.81 4119.54h3.47v3.47h-3.47zM546.13 4119.54h3.47v3.47h-3.47zM556.10 4119.54h3.47v3.47h-3.47zM446.40 4122.86h3.47v3.47h-3.47zM463.02 4122.86h3.47v3.47h-3.47zM466.35 4122.86h3.47v3.47h-3.47zM469.67 4122.86h3.47v3.47h-3.47zM472.99 4122.86h3.47v3.47h-3.47zM486.29 4122.86h3.47v3.47h-3.47zM496.26 4122.86h3.47v3.47h-3.47zM506.24 4122.86h3.47v3.47h-3.47zM516.21 4122.86h3.47v3.47h-3.47zM519.54 4122.86h3.47v3.47h-3.47zM522.86 4122.86h3.47v3.47h-3.47zM526.18 4122.86h3.47v3.47h-3.47zM529.51 4122.86h3.47v3.47h-3.47zM539.48 4122.86h3.47v3.47h-3.47zM542.81 4122.86h3.47v3.47h-3.47zM546.13 4122.86h3.47v3.47h-3.47zM552.78 4122.86h3.47v3.47h-3.47zM556.10 4122.86h3.47v3.47h-3.47zM559.43 4122.86h3.47v3.47h-3.47zM446.40 4126.18h3.47v3.47h-3.47zM449.72 4126.18h3.47v3.47h-3.47zM453.05 4126.18h3.47v3.47h-3.47zM463.02 4126.18h3.47v3.47h-3.47zM466.35 4126.18h3.47v3.47h-3.47zM472.99 4126.18h3.47v3.47h-3.47zM476.32 4126.18h3.47v3.47h-3.47zM479.64 4126.18h3.47v3.47h-3.47zM486.29 4126.18h3.47v3.47h-3.47zM492.94 4126.18h3.47v3.47h-3.47zM496.26 4126.18h3.47v3.47h-3.47zM506.24 4126.18h3.47v3.47h-3.47zM509.56 4126.18h3.47v3.47h-3.47zM516.21 4126.18h3.47v3.47h-3.47zM519.54 4126.18h3.47v3.47h-3.47zM526.18 4126.18h3.47v3.47h-3.47zM532.83 4126.18h3.47v3.47h-3.47zM542.81 4126.18h3.47v3.47h-3.47zM546.13 4126.18h3.47v3.47h-3.47zM559.43 4126.18h3.47v3.47h-3.47zM566.08 4126.18h3.47v3.47h-3.47zM449.72 4129.51h3.47v3.47h-3.47zM453.05 4129.51h3.47v3.47h-3.47zM463.02 4129.51h3.47v3.47h-3.47zM476.32 4129.51h3.47v3.47h-3.47zM479.64 4129.51h3.47v3.47h-3.47zM492.94 4129.51h3.47v3.47h-3.47zM499.59 4129.51h3.47v3.47h-3.47zM512.89 4129.51h3.47v3.47h-3.47zM519.54 4129.51h3.47v3.47h-3.47zM522.86 4129.51h3.47v3.47h-3.47zM532.83 4129.51h3.47v3.47h-3.47zM536.16 4129.51h3.47v3.47h-3.47zM539.48 4129.51h3.47v3.47h-3.47zM546.13 4129.51h3.47v3.47h-3.47zM549.45 4129.51h3.47v3.47h-3.47zM552.78 4129.51h3.47v3.47h-3.47zM562.75 4129.51h3.47v3.47h-3.47zM449.72 4132.83h3.47v3.47h-3.47zM456.37 4132.83h3.47v3.47h-3.47zM469.67 4132.83h3.47v3.47h-3.47zM472.99 4132.83h3.47v3.47h-3.47zM479.64 4132.83h3.47v3.47h-3.47zM489.62 4132.83h3.47v3.47h-3.47zM492.94 4132.83h3.47v3.47h-3.47zM502.91 4132.83h3.47v3.47h-3.47zM516.21 4132.83h3.47v3.47h-3.47zM522.86 4132.83h3.47v3.47h-3.47zM526.18 4132.83h3.47v3.47h-3.47zM529.51 4132.83h3.47v3.47h-3.47zM532.83 4132.83h3.47v3.47h-3.47zM542.81 4132.83h3.47v3.47h-3.47zM549.45 4132.83h3.47v3.47h-3.47zM562.75 4132.83h3.47v3.47h-3.47zM446.40 4136.16h3.47v3.47h-3.47zM453.05 4136.16h3.47v3.47h-3.47zM469.67 4136.16h3.47v3.47h-3.47zM486.29 4136.16h3.47v3.47h-3.47zM496.26 4136.16h3.47v3.47h-3.47zM499.59 4136.16h3.47v3.47h-3.47zM506.24 4136.16h3.47v3.47h-3.47zM512.89 4136.16h3.47v3.47h-3.47zM519.54 4136.16h3.47v3.47h-3.47zM529.51 4136.16h3.47v3.47h-3.47zM532.83 4136.16h3.47v3.47h-3.47zM539.48 4136.16h3.47v3.47h-3.47zM542.81 4136.16h3.47v3.47h-3.47zM546.13 4136.16h3.47v3.47h-3.47zM549.45 4136.16h3.47v3.47h-3.47zM562.75 4136.16h3.47v3.47h-3.47zM446.40 4139.48h3.47v3.47h-3.47zM456.37 4139.48h3.47v3.47h-3.47zM472.99 4139.48h3.47v3.47h-3.47zM482.97 4139.48h3.47v3.47h-3.47zM489.62 4139.48h3.47v3.47h-3.47zM499.59 4139.48h3.47v3.47h-3.47zM509.56 4139.48h3.47v3.47h-3.47zM516.21 4139.48h3.47v3.47h-3.47zM522.86 4139.48h3.47v3.47h-3.47zM539.48 4139.48h3.47v3.47h-3.47zM542.81 4139.48h3.47v3.47h-3.47zM546.13 4139.48h3.47v3.47h-3.47zM549.45 4139.48h3.47v3.47h-3.47zM556.10 4139.48h3.47v3.47h-3.47zM566.08 4139.48h3.47v3.47h-3.47zM479.64 4142.81h3.47v3.47h-3.47zM489.62 4142.81h3.47v3.47h-3.47zM496.26 4142.81h3.47v3.47h-3.47zM499.59 4142.81h3.47v3.47h-3.47zM502.91 4142.81h3.47v3.47h-3.47zM516.21 4142.81h3.47v3.47h-3.47zM519.54 4142.81h3.47v3.47h-3.47zM522.86 4142.81h3.47v3.47h-3.47zM532.83 4142.81h3.47v3.47h-3.47zM549.45 4142.81h3.47v3.47h-3.47zM556.10 4142.81h3.47v3.47h-3.47zM562.75 4142.81h3.47v3.47h-3.47zM566.08 4142.81h3.47v3.47h-3.47zM446.40 4146.13h3.47v3.47h-3.47zM449.72 4146.13h3.47v3.47h-3.47zM453.05 4146.13h3.47v3.47h-3.47zM456.37 4146.13h3.47v3.47h-3.47zM459.70 4146.13h3.47v3.47h-3.47zM463.02 4146.13h3.47v3.47h-3.47zM466.35 4146.13h3.47v3.47h-3.47zM482.97 4146.13h3.47v3.47h-3.47zM486.29 4146.13h3.47v3.47h-3.47zM489.62 4146.13h3.47v3.47h-3.47zM492.94 4146.13h3.47v3.47h-3.47zM506.24 4146.13h3.47v3.47h-3.47zM526.18 4146.13h3.47v3.47h-3.47zM529.51 4146.13h3.47v3.47h-3.47zM532.83 4146.13h3.47v3.47h-3.47zM536.16 4146.13h3.47v3.47h-3.47zM539.48 4146.13h3.47v3.47h-3.47zM556.10 4146.13h3.47v3.47h-3.47zM562.75 4146.13h3.47v3.47h-3.47zM446.40 4149.45h3.47v3.47h-3.47zM466.35 4149.45h3.47v3.47h-3.47zM472.99 4149.45h3.47v3.47h-3.47zM486.29 4149.45h3.47v3.47h-3.47zM492.94 4149.45h3.47v3.47h-3.47zM496.26 4149.45h3.47v3.47h-3.47zM529.51 4149.45h3.47v3.47h-3.47zM539.48 4149.45h3.47v3.47h-3.47zM542.81 4149.45h3.47v3.47h-3.47zM549.45 4149.45h3.47v3.47h-3.47zM556.10 4149.45h3.47v3.47h-3.47zM559.43 4149.45h3.47v3.47h-3.47zM562.75 4149.45h3.47v3.47h-3.47zM446.40 4152.78h3.47v3.47h-3.47zM453.05 4152.78h3.47v3.47h-3.47zM456.37 4152.78h3.47v3.47h-3.47zM459.70 4152.78h3.47v3.47h-3.47zM466.35 4152.78h3.47v3.47h-3.47zM472.99 4152.78h3.47v3.47h-3.47zM479.64 4152.78h3.47v3.47h-3.47zM492.94 4152.78h3.47v3.47h-3.47zM506.24 4152.78h3.47v3.47h-3.47zM509.56 4152.78h3.47v3.47h-3.47zM512.89 4152.78h3.47v3.47h-3.47zM516.21 4152.78h3.47v3.47h-3.47zM536.16 4152.78h3.47v3.47h-3.47zM539.48 4152.78h3.47v3.47h-3.47zM542.81 4152.78h3.47v3.47h-3.47zM549.45 4152.78h3.47v3.47h-3.47zM552.78 4152.78h3.47v3.47h-3.47zM556.10 4152.78h3.47v3.47h-3.47zM559.43 4152.78h3.47v3.47h-3.47zM562.75 4152.78h3.47v3.47h-3.47zM566.08 4152.78h3.47v3.47h-3.47zM446.40 4156.10h3.47v3.47h-3.47zM453.05 4156.10h3.47v3.47h-3.47zM456.37 4156.10h3.47v3.47h-3.47zM459.70 4156.10h3.47v3.47h-3.47zM466.35 4156.10h3.47v3.47h-3.47zM472.99 4156.10h3.47v3.47h-3.47zM476.32 4156.10h3.47v3.47h-3.47zM482.97 4156.10h3.47v3.47h-3.47zM492.94 4156.10h3.47v3.47h-3.47zM499.59 4156.10h3.47v3.47h-3.47zM506.24 4156.10h3.47v3.47h-3.47zM509.56 4156.10h3.47v3.47h-3.47zM512.89 4156.10h3.47v3.47h-3.47zM522.86 4156.10h3.47v3.47h-3.47zM536.16 4156.10h3.47v3.47h-3.47zM542.81 4156.10h3.47v3.47h-3.47zM549.45 4156.10h3.47v3.47h-3.47zM556.10 4156.10h3.47v3.47h-3.47zM559.43 4156.10h3.47v3.47h-3.47zM446.40 4159.43h3.47v3.47h-3.47zM453.05 4159.43h3.47v3.47h-3.47zM456.37 4159.43h3.47v3.47h-3.47zM459.70 4159.43h3.47v3.47h-3.47zM466.35 4159.43h3.47v3.47h-3.47zM472.99 4159.43h3.47v3.47h-3.47zM476.32 4159.43h3.47v3.47h-3.47zM482.97 4159.43h3.47v3.47h-3.47zM489.62 4159.43h3.47v3.47h-3.47zM492.94 4159.43h3.47v3.47h-3.47zM496.26 4159.43h3.47v3.47h-3.47zM506.24 4159.43h3.47v3.47h-3.47zM512.89 4159.43h3.47v3.47h-3.47zM532.83 4159.43h3.47v3.47h-3.47zM536.16 4159.43h3.47v3.47h-3.47zM539.48 4159.43h3.47v3.47h-3.47zM552.78 4159.43h3.47v3.47h-3.47zM556.10 4159.43h3.47v3.47h-3.47zM566.08 4159.43h3.47v3.47h-3.47zM446.40 4162.75h3.47v3.47h-3.47zM466.35 4162.75h3.47v3.47h-3.47zM472.99 4162.75h3.47v3.47h-3.47zM476.32 4162.75h3.47v3.47h-3.47zM479.64 4162.75h3.47v3.47h-3.47zM486.29 4162.75h3.47v3.47h-3.47zM489.62 4162.75h3.47v3.47h-3.47zM492.94 4162.75h3.47v3.47h-3.47zM502.91 4162.75h3.47v3.47h-3.47zM509.56 4162.75h3.47v3.47h-3.47zM512.89 4162.75h3.47v3.47h-3.47zM526.18 4162.75h3.47v3.47h-3.47zM529.51 4162.75h3.47v3.47h-3.47zM536.16 4162.75h3.47v3.47h-3.47zM539.48 4162.75h3.47v3.47h-3.47zM542.81 4162.75h3.47v3.47h-3.47zM546.13 4162.75h3.47v3.47h-3.47zM549.45 4162.75h3.47v3.47h-3.47zM446.40 4166.08h3.47v3.47h-3.47zM449.72 4166.08h3.47v3.47h-3.47zM453.05 4166.08h3.47v3.47h-3.47zM456.37 4166.08h3.47v3.47h-3.47zM459.70 4166.08h3.47v3.47h-3.47zM463.02 4166.08h3.47v3.47h-3.47zM466.35 4166.08h3.47v3.47h-3.47zM472.99 4166.08h3.47v3.47h-3.47zM476.32 4166.08h3.47v3.47h-3.47zM506.24 4166.08h3.47v3.47h-3.47zM512.89 4166.08h3.47v3.47h-3.47zM516.21 4166.08h3.47v3.47h-3.47zM529.51 4166.08h3.47v3.47h-3.47zM532.83 4166.08h3.47v3.47h-3.47zM542.81 4166.08h3.47v3.47h-3.47zM552.78 4166.08h3.47v3.47h-3.47zM562.75 4166.08h3.47v3.47h-3.47z" fill="#1a1a1a"/>
<rect x="496" y="4096" width="29" height="24" fill="#fff"/>
<path d="M501 4102 h5 q4 0 4 4 v4 q0 4 -4 4 h-5 z" fill="none" stroke="#1f3566" stroke-width="2.6"/>
<path d="M516 4102 L522 4108 L516 4114 L510 4108 Z" fill="none" stroke="#1f3566" stroke-width="2.6"/>
<g fill="#1f3d7c" stroke="none">
<rect x="163" y="4318" width="11.5" height="48.7"/>
<path d="M168 4318 H184 Q199 4318 199 4333 Q199 4348 184 4348 H168 V4338 H183 Q188 4338 188 4333 Q188 4328 183 4328 H168 Z"/>
<path d="M178 4345 L190 4345 L201 4366.7 L188.5 4366.7 Z"/>
<path fill-rule="evenodd" d="M205 4342.35 Q205 4318 226.7 4318 Q248.4 4318 248.4 4342.35 Q248.4 4366.7 226.7 4366.7 Q205 4366.7 205 4342.35 Z M216 4342.35 Q216 4328.5 226.7 4328.5 Q237.4 4328.5 237.4 4342.35 Q237.4 4356.2 226.7 4356.2 Q216 4356.2 216 4342.35 Z"/>
<path fill-rule="evenodd" d="M254 4342.35 Q254 4318 276 4318 Q298 4318 298 4342.35 Q298 4366.7 276 4366.7 Q254 4366.7 254 4342.35 Z M265 4342.35 Q265 4328.5 276 4328.5 Q287 4328.5 287 4342.35 Q287 4356.2 276 4356.2 Q265 4356.2 265 4342.35 Z"/>
<rect x="300.5" y="4318" width="38" height="10.5"/>
<rect x="314" y="4318" width="11.5" height="48.7"/>
<path fill-rule="evenodd" d="M351 4318 H369 L385.5 4366.7 H373.5 L370.5 4357 H349.5 L346.5 4366.7 H334.5 Z M352.5 4347.5 H367.5 L361.5 4328.5 H358.5 Z"/>
<rect x="389" y="4318" width="11.5" height="48.7"/>
</g>
<circle cx="411.8" cy="4309.5" r="6" fill="none" stroke="#1f3d7c" stroke-width="1.5"/>
<text x="411.8" y="4313" text-anchor="middle" font-family="Liberation Sans" font-weight="bold" font-size="9" fill="#1f3d7c">R</text>
<rect x="418" y="4319.5" width="49" height="8.5" fill="#f0652b"/>
<text x="478.5" y="4329.8" font-family="Liberation Sans" font-weight="bold" font-size="17" fill="#f0652b" textLength="48.5" lengthAdjust="spacingAndGlyphs">SPORTS</text>
</svg>
<div class="t" style="left:418px;top:4339px;font-size:27px;font-weight:bold;color:#f0652b;letter-spacing:-0.5px">根尖体育</div>
<div class="t" style="left:71px;top:4210px;font-size:22px;color:#555">微信扫码查看更多数据</div>
<div class="t" style="left:398px;top:4210px;font-size:22.2px;color:#555">微信扫码查看数据说明</div>
<div class="t" style="left:69px;top:4408px;font-size:22px;letter-spacing:0.2px;color:#222">数据采集由根尖体育科技（北京）有限公司提供技术支持</div>
<div class="t" style="left:574px;top:4530px;font-size:18px;color:#fff;text-shadow:0 0 1.5px #777,0 0 1px #999">@WCBA联赛</div>
<svg class="a" style="left:546px;top:4527px" width="28" height="24" viewBox="0 0 30 24">
<path d="M12 6 Q4 9 3 15 Q3 21 13 21 Q23 21 24 15 Q24 11 20 12 Q21 8 18 8 Q15 8 12 10 Q14 6 12 6 Z" fill="#fff" stroke="#888" stroke-width="1.2"/>
<path d="M20 3 Q26 3 27 9 M20 6 Q23.5 6 24 9" fill="none" stroke="#888" stroke-width="1.2"/>
</svg>
</body></html>
